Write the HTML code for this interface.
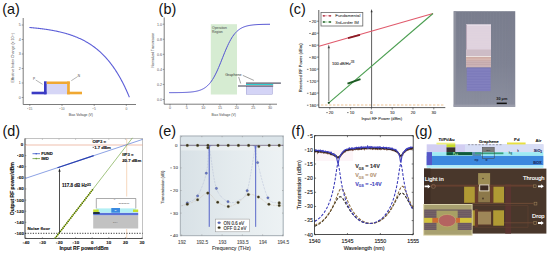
<!DOCTYPE html>
<html><head><meta charset="utf-8"><style>
html,body{margin:0;padding:0;background:#fff;}
svg{display:block;}
text{font-family:"Liberation Sans",sans-serif;}
</style></head><body>
<svg xmlns="http://www.w3.org/2000/svg" width="550" height="253" viewBox="0 0 550 253">
<rect width="550" height="253" fill="#fff"/>
<text x="2.2" y="14.3" font-size="14.4" text-anchor="start" fill="#111" font-weight="normal" font-family="Liberation Sans" >(a)</text>
<text x="158.6" y="14.3" font-size="14.4" text-anchor="start" fill="#111" font-weight="normal" font-family="Liberation Sans" >(b)</text>
<text x="288.9" y="14.2" font-size="14.4" text-anchor="start" fill="#111" font-weight="normal" font-family="Liberation Sans" >(c)</text>
<text x="2.5" y="136.1" font-size="14.4" text-anchor="start" fill="#111" font-weight="normal" font-family="Liberation Sans" >(d)</text>
<text x="158.4" y="136.2" font-size="14.4" text-anchor="start" fill="#111" font-weight="normal" font-family="Liberation Sans" >(e)</text>
<text x="291.2" y="136.3" font-size="14.4" text-anchor="start" fill="#111" font-weight="normal" font-family="Liberation Sans" >(f)</text>
<text x="414.8" y="136.1" font-size="14.4" text-anchor="start" fill="#111" font-weight="normal" font-family="Liberation Sans" >(g)</text>
<line x1="23.2" y1="18" x2="23.2" y2="104.5" stroke="#444" stroke-width="0.7" />
<line x1="23.2" y1="104.5" x2="136" y2="104.5" stroke="#444" stroke-width="0.7" />
<line x1="21.7" y1="97.5" x2="23.2" y2="97.5" stroke="#444" stroke-width="0.5" />
<text x="20.7" y="98.8" font-size="3.6" text-anchor="end" fill="#555" font-weight="normal" font-family="Liberation Sans" >0</text>
<line x1="21.7" y1="83" x2="23.2" y2="83" stroke="#444" stroke-width="0.5" />
<text x="20.7" y="84.3" font-size="3.6" text-anchor="end" fill="#555" font-weight="normal" font-family="Liberation Sans" >1</text>
<line x1="21.7" y1="68.5" x2="23.2" y2="68.5" stroke="#444" stroke-width="0.5" />
<text x="20.7" y="69.8" font-size="3.6" text-anchor="end" fill="#555" font-weight="normal" font-family="Liberation Sans" >2</text>
<line x1="21.7" y1="54" x2="23.2" y2="54" stroke="#444" stroke-width="0.5" />
<text x="20.7" y="55.3" font-size="3.6" text-anchor="end" fill="#555" font-weight="normal" font-family="Liberation Sans" >3</text>
<line x1="21.7" y1="39.5" x2="23.2" y2="39.5" stroke="#444" stroke-width="0.5" />
<text x="20.7" y="40.8" font-size="3.6" text-anchor="end" fill="#555" font-weight="normal" font-family="Liberation Sans" >4</text>
<line x1="21.7" y1="25" x2="23.2" y2="25" stroke="#444" stroke-width="0.5" />
<text x="20.7" y="26.3" font-size="3.6" text-anchor="end" fill="#555" font-weight="normal" font-family="Liberation Sans" >5</text>
<line x1="29.8" y1="104.5" x2="29.8" y2="106.0" stroke="#444" stroke-width="0.5" />
<rect x="27.14" y="108.21" width="1.15" height="0.40" fill="#666"/><text x="28.79" y="109.5" font-size="3.3" text-anchor="start" fill="#666" font-weight="normal" font-family="Liberation Sans" >15</text>
<line x1="62" y1="104.5" x2="62" y2="106.0" stroke="#444" stroke-width="0.5" />
<rect x="59.34" y="108.21" width="1.15" height="0.40" fill="#666"/><text x="60.99" y="109.5" font-size="3.3" text-anchor="start" fill="#666" font-weight="normal" font-family="Liberation Sans" >10</text>
<line x1="94.2" y1="104.5" x2="94.2" y2="106.0" stroke="#444" stroke-width="0.5" />
<rect x="92.46" y="108.21" width="1.15" height="0.40" fill="#666"/><text x="94.11" y="109.5" font-size="3.3" text-anchor="start" fill="#666" font-weight="normal" font-family="Liberation Sans" >5</text>
<line x1="126.3" y1="104.5" x2="126.3" y2="106.0" stroke="#444" stroke-width="0.5" />
<text x="126.3" y="109.5" font-size="3.3" text-anchor="middle" fill="#666" font-weight="normal" font-family="Liberation Sans" >0</text>
<text x="80.8" y="115.5" font-size="3.4" text-anchor="middle" fill="#444" font-weight="normal" font-family="Liberation Sans" >Bias Voltage (V)</text>
<text x="0" y="0" font-size="3.6" text-anchor="middle" fill="#444" font-weight="normal" font-family="Liberation Sans" transform="translate(14.2,57.8) rotate(-90)">Effective Index Change (x 10<tspan font-size="2.4" dy="-1.2">-3</tspan><tspan dy="1.2">)</tspan></text>
<path d="M29.40,27.49 L29.90,27.53 L30.40,27.57 L30.90,27.62 L31.40,27.66 L31.90,27.71 L32.40,27.75 L32.90,27.80 L33.40,27.85 L33.90,27.89 L34.40,27.94 L34.90,27.99 L35.40,28.04 L35.90,28.09 L36.40,28.15 L36.90,28.20 L37.40,28.25 L37.90,28.31 L38.40,28.36 L38.90,28.42 L39.40,28.48 L39.90,28.54 L40.40,28.60 L40.90,28.66 L41.40,28.72 L41.90,28.78 L42.40,28.85 L42.90,28.91 L43.40,28.98 L43.90,29.05 L44.40,29.12 L44.90,29.19 L45.40,29.26 L45.90,29.33 L46.40,29.40 L46.90,29.48 L47.40,29.55 L47.90,29.63 L48.40,29.71 L48.90,29.79 L49.40,29.87 L49.90,29.95 L50.40,30.04 L50.90,30.12 L51.40,30.21 L51.90,30.30 L52.40,30.39 L52.90,30.48 L53.40,30.57 L53.90,30.67 L54.40,30.76 L54.90,30.86 L55.40,30.96 L55.90,31.06 L56.40,31.16 L56.90,31.27 L57.40,31.37 L57.90,31.48 L58.40,31.59 L58.90,31.70 L59.40,31.82 L59.90,31.93 L60.40,32.05 L60.90,32.17 L61.40,32.29 L61.90,32.42 L62.40,32.54 L62.90,32.67 L63.40,32.80 L63.90,32.93 L64.40,33.07 L64.90,33.21 L65.40,33.34 L65.90,33.49 L66.40,33.63 L66.90,33.78 L67.40,33.93 L67.90,34.08 L68.40,34.23 L68.90,34.39 L69.40,34.55 L69.90,34.71 L70.40,34.88 L70.90,35.04 L71.40,35.21 L71.90,35.39 L72.40,35.56 L72.90,35.74 L73.40,35.93 L73.90,36.11 L74.40,36.30 L74.90,36.49 L75.40,36.69 L75.90,36.89 L76.40,37.09 L76.90,37.30 L77.40,37.50 L77.90,37.72 L78.40,37.93 L78.90,38.15 L79.40,38.38 L79.90,38.60 L80.40,38.84 L80.90,39.07 L81.40,39.31 L81.90,39.55 L82.40,39.80 L82.90,40.05 L83.40,40.31 L83.90,40.57 L84.40,40.83 L84.90,41.10 L85.40,41.38 L85.90,41.65 L86.40,41.94 L86.90,42.23 L87.40,42.52 L87.90,42.82 L88.40,43.12 L88.90,43.43 L89.40,43.74 L89.90,44.06 L90.40,44.38 L90.90,44.71 L91.40,45.05 L91.90,45.39 L92.40,45.74 L92.90,46.09 L93.40,46.45 L93.90,46.81 L94.40,47.19 L94.90,47.56 L95.40,47.95 L95.90,48.34 L96.40,48.73 L96.90,49.14 L97.40,49.55 L97.90,49.97 L98.40,50.39 L98.90,50.82 L99.40,51.26 L99.90,51.71 L100.40,52.16 L100.90,52.63 L101.40,53.10 L101.90,53.57 L102.40,54.06 L102.90,54.56 L103.40,55.06 L103.90,55.57 L104.40,56.09 L104.90,56.62 L105.40,57.16 L105.90,57.70 L106.40,58.26 L106.90,58.83 L107.40,59.40 L107.90,59.99 L108.40,60.58 L108.90,61.19 L109.40,61.81 L109.90,62.43 L110.40,63.07 L110.90,63.72 L111.40,64.38 L111.90,65.05 L112.40,65.73 L112.90,66.42 L113.40,67.13 L113.90,67.84 L114.40,68.57 L114.90,69.31 L115.40,70.07 L115.90,70.83 L116.40,71.61 L116.90,72.41 L117.40,73.21 L117.90,74.04 L118.40,74.87 L118.90,75.72 L119.40,76.58 L119.90,77.46 L120.40,78.35 L120.90,79.26 L121.40,80.19 L121.90,81.12 L122.40,82.08 L122.90,83.05 L123.40,84.04 L123.90,85.04 L124.40,86.07 L124.90,87.11 L125.40,88.16 L125.90,89.24 L126.40,90.33 L126.90,91.44 L127.40,92.58 L127.90,93.73 L128.40,94.90 L128.90,96.09 L129.40,97.30" fill="none" stroke="#5d5fd8" stroke-width="1.1"/>
<rect x="46.7" y="84" width="20.4" height="10.3" fill="#d6d6f6" />
<rect x="31.6" y="91.7" width="14.8" height="2.6" fill="#3b3bc4" />
<rect x="44" y="81.3" width="2.7" height="13" fill="#3b3bc4" />
<rect x="46.7" y="81.5" width="23.1" height="2.5" fill="#f0a832" />
<rect x="67.1" y="81.5" width="2.7" height="12.8" fill="#f0a832" />
<rect x="67.1" y="91.7" width="14.9" height="2.6" fill="#f0a832" />
<text x="33" y="79.8" font-size="3.2" text-anchor="start" fill="#444" font-weight="normal" font-family="Liberation Sans" >P</text>
<line x1="35.7" y1="80" x2="42.6" y2="84.3" stroke="#444" stroke-width="0.4" />
<text x="77.8" y="76.8" font-size="3.2" text-anchor="start" fill="#444" font-weight="normal" font-family="Liberation Sans" >N</text>
<line x1="77.6" y1="76.6" x2="71.3" y2="80.7" stroke="#444" stroke-width="0.4" />
<rect x="210.8" y="24.2" width="26.2" height="70.3" fill="#d6ecd2" />
<line x1="164.2" y1="17.4" x2="164.2" y2="104.2" stroke="#444" stroke-width="0.7" />
<line x1="164.2" y1="104.2" x2="277" y2="104.2" stroke="#444" stroke-width="0.7" />
<line x1="162.7" y1="99.5" x2="164.2" y2="99.5" stroke="#444" stroke-width="0.5" />
<text x="161.89999999999998" y="100.8" font-size="3.6" text-anchor="end" fill="#555" font-weight="normal" font-family="Liberation Sans" >0.0</text>
<line x1="162.7" y1="84.44" x2="164.2" y2="84.44" stroke="#444" stroke-width="0.5" />
<text x="161.89999999999998" y="85.74" font-size="3.6" text-anchor="end" fill="#555" font-weight="normal" font-family="Liberation Sans" >0.2</text>
<line x1="162.7" y1="69.38" x2="164.2" y2="69.38" stroke="#444" stroke-width="0.5" />
<text x="161.89999999999998" y="70.67999999999999" font-size="3.6" text-anchor="end" fill="#555" font-weight="normal" font-family="Liberation Sans" >0.4</text>
<line x1="162.7" y1="54.32" x2="164.2" y2="54.32" stroke="#444" stroke-width="0.5" />
<text x="161.89999999999998" y="55.62" font-size="3.6" text-anchor="end" fill="#555" font-weight="normal" font-family="Liberation Sans" >0.6</text>
<line x1="162.7" y1="39.26" x2="164.2" y2="39.26" stroke="#444" stroke-width="0.5" />
<text x="161.89999999999998" y="40.559999999999995" font-size="3.6" text-anchor="end" fill="#555" font-weight="normal" font-family="Liberation Sans" >0.8</text>
<line x1="162.7" y1="24.200000000000003" x2="164.2" y2="24.200000000000003" stroke="#444" stroke-width="0.5" />
<text x="161.89999999999998" y="25.500000000000004" font-size="3.6" text-anchor="end" fill="#555" font-weight="normal" font-family="Liberation Sans" >1.0</text>
<line x1="170.0" y1="104.2" x2="170.0" y2="105.7" stroke="#444" stroke-width="0.5" />
<text x="170.0" y="109.2" font-size="3.6" text-anchor="middle" fill="#555" font-weight="normal" font-family="Liberation Sans" >0</text>
<line x1="186.665" y1="104.2" x2="186.665" y2="105.7" stroke="#444" stroke-width="0.5" />
<text x="186.665" y="109.2" font-size="3.6" text-anchor="middle" fill="#555" font-weight="normal" font-family="Liberation Sans" >5</text>
<line x1="203.32999999999998" y1="104.2" x2="203.32999999999998" y2="105.7" stroke="#444" stroke-width="0.5" />
<text x="203.32999999999998" y="109.2" font-size="3.6" text-anchor="middle" fill="#555" font-weight="normal" font-family="Liberation Sans" >10</text>
<line x1="219.995" y1="104.2" x2="219.995" y2="105.7" stroke="#444" stroke-width="0.5" />
<text x="219.995" y="109.2" font-size="3.6" text-anchor="middle" fill="#555" font-weight="normal" font-family="Liberation Sans" >15</text>
<line x1="236.66" y1="104.2" x2="236.66" y2="105.7" stroke="#444" stroke-width="0.5" />
<text x="236.66" y="109.2" font-size="3.6" text-anchor="middle" fill="#555" font-weight="normal" font-family="Liberation Sans" >20</text>
<line x1="253.325" y1="104.2" x2="253.325" y2="105.7" stroke="#444" stroke-width="0.5" />
<text x="253.325" y="109.2" font-size="3.6" text-anchor="middle" fill="#555" font-weight="normal" font-family="Liberation Sans" >25</text>
<line x1="269.99" y1="104.2" x2="269.99" y2="105.7" stroke="#444" stroke-width="0.5" />
<text x="269.99" y="109.2" font-size="3.6" text-anchor="middle" fill="#555" font-weight="normal" font-family="Liberation Sans" >30</text>
<text x="223.7" y="115.5" font-size="3.4" text-anchor="middle" fill="#444" font-weight="normal" font-family="Liberation Sans" >Bias Voltage (V)</text>
<text x="0" y="0" font-size="3.1" text-anchor="middle" fill="#444" font-weight="normal" font-family="Liberation Sans" transform="translate(153.9,50.1) rotate(-90)">Normalized Transmission</text>
<text x="212" y="28.5" font-size="3.4" text-anchor="start" fill="#444" font-weight="normal" font-family="Liberation Sans" >Operation</text>
<text x="212" y="33" font-size="3.4" text-anchor="start" fill="#444" font-weight="normal" font-family="Liberation Sans" >Region</text>
<path d="M169.20,92.67 L170.21,92.67 L171.22,92.66 L172.22,92.66 L173.23,92.65 L174.24,92.64 L175.25,92.63 L176.26,92.62 L177.26,92.61 L178.27,92.59 L179.28,92.58 L180.29,92.56 L181.30,92.54 L182.30,92.51 L183.31,92.48 L184.32,92.44 L185.33,92.40 L186.34,92.36 L187.34,92.30 L188.35,92.24 L189.36,92.16 L190.37,92.08 L191.38,91.98 L192.38,91.87 L193.39,91.74 L194.40,91.59 L195.41,91.41 L196.42,91.21 L197.42,90.98 L198.43,90.71 L199.44,90.40 L200.45,90.05 L201.46,89.65 L202.46,89.18 L203.47,88.66 L204.48,88.05 L205.49,87.37 L206.50,86.59 L207.50,85.72 L208.51,84.73 L209.52,83.63 L210.53,82.40 L211.54,81.03 L212.54,79.52 L213.55,77.87 L214.56,76.08 L215.57,74.14 L216.58,72.07 L217.58,69.87 L218.59,67.56 L219.60,65.16 L220.61,62.69 L221.62,60.17 L222.62,57.63 L223.63,55.11 L224.64,52.61 L225.65,50.18 L226.66,47.84 L227.66,45.60 L228.67,43.48 L229.68,41.50 L230.69,39.65 L231.70,37.95 L232.70,36.39 L233.71,34.98 L234.72,33.70 L235.73,32.55 L236.74,31.52 L237.74,30.61 L238.75,29.80 L239.76,29.08 L240.77,28.45 L241.78,27.90 L242.78,27.41 L243.79,26.99 L244.80,26.62 L245.81,26.29 L246.82,26.01 L247.82,25.77 L248.83,25.56 L249.84,25.37 L250.85,25.21 L251.86,25.08 L252.86,24.96 L253.87,24.85 L254.88,24.76 L255.89,24.69 L256.90,24.62 L257.90,24.56 L258.91,24.51 L259.92,24.47 L260.93,24.43 L261.94,24.40 L262.94,24.37 L263.95,24.35 L264.96,24.33 L265.97,24.31 L266.98,24.30 L267.98,24.28 L268.99,24.27 L270.00,24.26" fill="none" stroke="#5252d2" stroke-width="1.0"/>
<rect x="246.2" y="86.4" width="26.3" height="7.8" fill="#d4d4f6" stroke="#8a8ac8" stroke-width="0.4"/>
<line x1="246" y1="83.1" x2="280.9" y2="83.1" stroke="#2c2c40" stroke-width="1.0" />
<line x1="246" y1="84.5" x2="273.2" y2="84.5" stroke="#2ecfd2" stroke-width="1.0" />
<line x1="238" y1="86" x2="273.2" y2="86" stroke="#3a3a4c" stroke-width="1.0" />
<text x="225.2" y="76.2" font-size="3.7" text-anchor="start" fill="#333" font-weight="normal" font-family="Liberation Sans" >Graphene</text>
<line x1="238.7" y1="77" x2="240.7" y2="83.5" stroke="#333" stroke-width="0.45" />
<line x1="242.8" y1="75.4" x2="253.9" y2="80.4" stroke="#333" stroke-width="0.45" />
<line x1="318.8" y1="10" x2="318.8" y2="107.6" stroke="#333" stroke-width="0.8" />
<line x1="318.8" y1="107.6" x2="445.3" y2="107.6" stroke="#333" stroke-width="0.8" />
<line x1="316.8" y1="21.2" x2="318.8" y2="21.2" stroke="#333" stroke-width="0.6" />
<rect x="309.18" y="21.02" width="1.64" height="0.65" fill="#444"/><text x="311.84" y="22.7" font-size="4.1" text-anchor="start" fill="#444" font-weight="normal" font-family="Liberation Sans" stroke="#444" stroke-width="0.12" >20</text>
<line x1="316.8" y1="33.172" x2="318.8" y2="33.172" stroke="#333" stroke-width="0.6" />
<rect x="309.18" y="32.99" width="1.64" height="0.65" fill="#444"/><text x="311.84" y="34.672" font-size="4.1" text-anchor="start" fill="#444" font-weight="normal" font-family="Liberation Sans" stroke="#444" stroke-width="0.12" >40</text>
<line x1="316.8" y1="45.144000000000005" x2="318.8" y2="45.144000000000005" stroke="#333" stroke-width="0.6" />
<rect x="309.18" y="44.97" width="1.64" height="0.65" fill="#444"/><text x="311.84" y="46.644000000000005" font-size="4.1" text-anchor="start" fill="#444" font-weight="normal" font-family="Liberation Sans" stroke="#444" stroke-width="0.12" >60</text>
<line x1="316.8" y1="57.116" x2="318.8" y2="57.116" stroke="#333" stroke-width="0.6" />
<rect x="309.18" y="56.94" width="1.64" height="0.65" fill="#444"/><text x="311.84" y="58.616" font-size="4.1" text-anchor="start" fill="#444" font-weight="normal" font-family="Liberation Sans" stroke="#444" stroke-width="0.12" >80</text>
<line x1="316.8" y1="69.08800000000001" x2="318.8" y2="69.08800000000001" stroke="#333" stroke-width="0.6" />
<rect x="306.90" y="68.91" width="1.64" height="0.65" fill="#444"/><text x="309.56" y="70.58800000000001" font-size="4.1" text-anchor="start" fill="#444" font-weight="normal" font-family="Liberation Sans" stroke="#444" stroke-width="0.12" >100</text>
<line x1="316.8" y1="81.06" x2="318.8" y2="81.06" stroke="#333" stroke-width="0.6" />
<rect x="306.90" y="80.88" width="1.64" height="0.65" fill="#444"/><text x="309.56" y="82.56" font-size="4.1" text-anchor="start" fill="#444" font-weight="normal" font-family="Liberation Sans" stroke="#444" stroke-width="0.12" >120</text>
<line x1="316.8" y1="93.03200000000001" x2="318.8" y2="93.03200000000001" stroke="#333" stroke-width="0.6" />
<rect x="306.90" y="92.85" width="1.64" height="0.65" fill="#444"/><text x="309.56" y="94.53200000000001" font-size="4.1" text-anchor="start" fill="#444" font-weight="normal" font-family="Liberation Sans" stroke="#444" stroke-width="0.12" >140</text>
<line x1="316.8" y1="105.004" x2="318.8" y2="105.004" stroke="#333" stroke-width="0.6" />
<rect x="306.90" y="104.83" width="1.64" height="0.65" fill="#444"/><text x="309.56" y="106.504" font-size="4.1" text-anchor="start" fill="#444" font-weight="normal" font-family="Liberation Sans" stroke="#444" stroke-width="0.12" >160</text>
<line x1="329.79999999999995" y1="107.6" x2="329.79999999999995" y2="109.39999999999999" stroke="#333" stroke-width="0.6" />
<rect x="326.19" y="112.42" width="1.64" height="0.65" fill="#444"/><text x="328.85" y="114.1" font-size="4.1" text-anchor="start" fill="#444" font-weight="normal" font-family="Liberation Sans" stroke="#444" stroke-width="0.12" >20</text>
<line x1="350.59999999999997" y1="107.6" x2="350.59999999999997" y2="109.39999999999999" stroke="#333" stroke-width="0.6" />
<rect x="346.99" y="112.42" width="1.64" height="0.65" fill="#444"/><text x="349.65" y="114.1" font-size="4.1" text-anchor="start" fill="#444" font-weight="normal" font-family="Liberation Sans" stroke="#444" stroke-width="0.12" >10</text>
<line x1="371.4" y1="107.6" x2="371.4" y2="109.39999999999999" stroke="#333" stroke-width="0.6" />
<text x="371.4" y="114.1" font-size="4.1" text-anchor="middle" fill="#444" font-weight="normal" font-family="Liberation Sans" stroke="#444" stroke-width="0.12" >0</text>
<line x1="392.2" y1="107.6" x2="392.2" y2="109.39999999999999" stroke="#333" stroke-width="0.6" />
<text x="392.2" y="114.1" font-size="4.1" text-anchor="middle" fill="#444" font-weight="normal" font-family="Liberation Sans" stroke="#444" stroke-width="0.12" >10</text>
<line x1="413.0" y1="107.6" x2="413.0" y2="109.39999999999999" stroke="#333" stroke-width="0.6" />
<text x="413.0" y="114.1" font-size="4.1" text-anchor="middle" fill="#444" font-weight="normal" font-family="Liberation Sans" stroke="#444" stroke-width="0.12" >20</text>
<line x1="433.79999999999995" y1="107.6" x2="433.79999999999995" y2="109.39999999999999" stroke="#333" stroke-width="0.6" />
<text x="433.79999999999995" y="114.1" font-size="4.1" text-anchor="middle" fill="#444" font-weight="normal" font-family="Liberation Sans" stroke="#444" stroke-width="0.12" >30</text>
<text x="381.8" y="119.6" font-size="4.1" text-anchor="middle" fill="#444" font-weight="normal" font-family="Liberation Sans" stroke="#444" stroke-width="0.12" >Input RF Power (dBm)</text>
<text x="0" y="0" font-size="4.1" text-anchor="middle" fill="#444" font-weight="normal" font-family="Liberation Sans" stroke="#444" stroke-width="0.12" transform="translate(301.8,67.8) rotate(-90)">Received RF Power (dBm)</text>
<line x1="321" y1="105" x2="445" y2="105" stroke="#e8b478" stroke-width="0.8" stroke-dasharray="2.4,1.6"/>
<line x1="371.6" y1="11" x2="371.6" y2="107.6" stroke="#333" stroke-width="0.8" />
<path d="M371.6,9 L370.6,12.2 L372.6,12.2 Z" fill="#333"/>
<line x1="319" y1="46.2" x2="433" y2="13.5" stroke="#e05a6c" stroke-width="1.1" />
<line x1="328.8" y1="102.8" x2="433" y2="13.5" stroke="#4a9e50" stroke-width="1.1" />
<line x1="348" y1="38.2" x2="360" y2="34.8" stroke="#8a1a24" stroke-width="1.8" />
<line x1="347.5" y1="83.7" x2="360.5" y2="79.2" stroke="#1c5a22" stroke-width="1.9" />
<line x1="328.8" y1="47" x2="328.8" y2="101" stroke="#5a5a5a" stroke-width="0.8" />
<path d="M328.8,44.6 L327.7,48.2 L329.9,48.2 Z" fill="#444"/>
<circle cx="328.8" cy="102.8" r="1.1" fill="#1d4a22"/>
<text x="332" y="64.5" font-size="4.0" text-anchor="start" fill="#333" font-weight="normal" font-family="Liberation Sans" stroke="#333" stroke-width="0.12" >100 dB/Hz<tspan font-size="2.6" dy="-1.5">2/3</tspan></text>
<rect x="321" y="12.4" width="41.8" height="13.6" fill="#fff" stroke="#666" stroke-width="0.8"/>
<line x1="322.5" y1="15.8" x2="331.3" y2="15.8" stroke="#e0566a" stroke-width="0.8" stroke-dasharray="1.6,1"/>
<circle cx="324" cy="15.8" r="0.9" fill="#a01c2c"/><circle cx="330" cy="15.8" r="0.9" fill="#a01c2c"/>
<line x1="322.5" y1="22" x2="331.3" y2="22" stroke="#42a048" stroke-width="0.8" stroke-dasharray="1.6,1"/>
<circle cx="324" cy="22" r="0.9" fill="#1c5a22"/><circle cx="330" cy="22" r="0.9" fill="#1c5a22"/>
<text x="335.3" y="17.3" font-size="4.3" text-anchor="start" fill="#333" font-weight="normal" font-family="Liberation Sans" stroke="#333" stroke-width="0.05" >Fundamental</text>
<text x="335.3" y="23.6" font-size="4.3" text-anchor="start" fill="#333" font-weight="normal" font-family="Liberation Sans" stroke="#333" stroke-width="0.05" >3rd-order IM</text>
<defs><pattern id="dots" width="1.7" height="1.7" patternUnits="userSpaceOnUse"><rect width="1.7" height="1.7" fill="#e4d8e2"/><circle cx="0.85" cy="0.85" r="0.42" fill="#c8b6c8"/></pattern><linearGradient id="eg" x1="0" y1="0" x2="1" y2="0"><stop offset="0" stop-color="#d8e1e6"/><stop offset="0.5" stop-color="#e4ebee"/><stop offset="1" stop-color="#edf2f4"/></linearGradient><linearGradient id="pg" x1="0" y1="0" x2="1" y2="0"><stop offset="0" stop-color="#7c7f8c"/><stop offset="0.5" stop-color="#818491"/><stop offset="1" stop-color="#7e8190"/></linearGradient></defs>
<defs><linearGradient id="pv" x1="0" y1="0" x2="0" y2="1"><stop offset="0" stop-color="#797d8d"/><stop offset="0.55" stop-color="#7e8293"/><stop offset="1" stop-color="#8b8f9f"/></linearGradient></defs>
<rect x="453.7" y="11.2" width="61.4" height="95.6" fill="url(#pv)" />
<rect x="456.0" y="11.2" width="0.6" height="95.6" fill="#8a8d9c" opacity="0.35"/>
<rect x="459.1" y="11.2" width="0.6" height="95.6" fill="#8a8d9c" opacity="0.35"/>
<rect x="462.20000000000005" y="11.2" width="0.6" height="95.6" fill="#8a8d9c" opacity="0.35"/>
<rect x="465.30000000000007" y="11.2" width="0.6" height="95.6" fill="#8a8d9c" opacity="0.35"/>
<rect x="468.4000000000001" y="11.2" width="0.6" height="95.6" fill="#8a8d9c" opacity="0.35"/>
<rect x="471.5000000000001" y="11.2" width="0.6" height="95.6" fill="#8a8d9c" opacity="0.35"/>
<rect x="474.60000000000014" y="11.2" width="0.6" height="95.6" fill="#8a8d9c" opacity="0.35"/>
<rect x="477.70000000000016" y="11.2" width="0.6" height="95.6" fill="#8a8d9c" opacity="0.35"/>
<rect x="480.8000000000002" y="11.2" width="0.6" height="95.6" fill="#8a8d9c" opacity="0.35"/>
<rect x="483.9000000000002" y="11.2" width="0.6" height="95.6" fill="#8a8d9c" opacity="0.35"/>
<rect x="487.0000000000002" y="11.2" width="0.6" height="95.6" fill="#8a8d9c" opacity="0.35"/>
<rect x="490.10000000000025" y="11.2" width="0.6" height="95.6" fill="#8a8d9c" opacity="0.35"/>
<rect x="493.2000000000003" y="11.2" width="0.6" height="95.6" fill="#8a8d9c" opacity="0.35"/>
<rect x="496.3000000000003" y="11.2" width="0.6" height="95.6" fill="#8a8d9c" opacity="0.35"/>
<rect x="499.4000000000003" y="11.2" width="0.6" height="95.6" fill="#8a8d9c" opacity="0.35"/>
<rect x="502.50000000000034" y="11.2" width="0.6" height="95.6" fill="#8a8d9c" opacity="0.35"/>
<rect x="505.60000000000036" y="11.2" width="0.6" height="95.6" fill="#8a8d9c" opacity="0.35"/>
<rect x="508.7000000000004" y="11.2" width="0.6" height="95.6" fill="#8a8d9c" opacity="0.35"/>
<rect x="511.8000000000004" y="11.2" width="0.6" height="95.6" fill="#8a8d9c" opacity="0.35"/>
<rect x="514.9000000000004" y="11.2" width="0.6" height="95.6" fill="#8a8d9c" opacity="0.35"/>
<rect x="453.7" y="11.2" width="2.2" height="95.6" fill="#8e919e" />
<rect x="453.7" y="104.6" width="61.4" height="2.2" fill="#9a9caa" />
<rect x="466" y="24.5" width="25" height="32" fill="url(#dots)" />
<rect x="466" y="24.5" width="25" height="1.2" fill="#e8e0ea" />
<rect x="466" y="24.5" width="1" height="32" fill="#b8a8b8" />
<rect x="466" y="49.5" width="25" height="6.5" fill="#cdbcc6" />
<rect x="466" y="56" width="25" height="1.2" fill="#ece2e0" />
<rect x="466" y="57.2" width="25" height="10.3" fill="#c0a4a8" />
<rect x="466" y="57.2" width="25" height="3.2" fill="#d4aea4" />
<rect x="466" y="58.8" width="25" height="0.7" fill="#d8c0c0" />
<rect x="466" y="60.8" width="25" height="0.7" fill="#d8c0c0" />
<rect x="466" y="62.8" width="25" height="0.7" fill="#d8c0c0" />
<rect x="466" y="64.8" width="25" height="0.7" fill="#d8c0c0" />
<rect x="466" y="66.4" width="25" height="0.7" fill="#d8c0c0" />
<rect x="466.8" y="67.5" width="23.8" height="23.6" fill="#7c7aba" />
<rect x="466.8" y="69.0" width="23.8" height="0.5" fill="#8886c2" />
<rect x="466.8" y="70.6" width="23.8" height="0.5" fill="#8886c2" />
<rect x="466.8" y="72.19999999999999" width="23.8" height="0.5" fill="#8886c2" />
<rect x="466.8" y="73.79999999999998" width="23.8" height="0.5" fill="#8886c2" />
<rect x="466.8" y="75.39999999999998" width="23.8" height="0.5" fill="#8886c2" />
<rect x="466.8" y="76.99999999999997" width="23.8" height="0.5" fill="#8886c2" />
<rect x="466.8" y="78.59999999999997" width="23.8" height="0.5" fill="#8886c2" />
<rect x="466.8" y="80.19999999999996" width="23.8" height="0.5" fill="#8886c2" />
<rect x="466.8" y="81.79999999999995" width="23.8" height="0.5" fill="#8886c2" />
<rect x="466.8" y="83.39999999999995" width="23.8" height="0.5" fill="#8886c2" />
<rect x="466.8" y="84.99999999999994" width="23.8" height="0.5" fill="#8886c2" />
<rect x="466.8" y="86.59999999999994" width="23.8" height="0.5" fill="#8886c2" />
<rect x="466.8" y="88.19999999999993" width="23.8" height="0.5" fill="#8886c2" />
<rect x="466.8" y="89.79999999999993" width="23.8" height="0.5" fill="#8886c2" />
<text x="501.8" y="100.3" font-size="3.8" text-anchor="middle" fill="#111" font-weight="bold" font-family="Liberation Sans" >30 μm</text>
<rect x="496.7" y="102.6" width="10.1" height="1.5" fill="#111" />
<rect x="25" y="138.6" width="117.6" height="99.9" fill="none" stroke="#9a9a9a" stroke-width="0.6"/>
<line x1="25" y1="138.6" x2="25" y2="238.5" stroke="#333" stroke-width="0.8" />
<line x1="25" y1="238.5" x2="142.6" y2="238.5" stroke="#333" stroke-width="0.8" />
<line x1="25" y1="144.5" x2="26.3" y2="144.5" stroke="#444" stroke-width="0.5" />
<text x="23.2" y="146.0" font-size="4.4" text-anchor="end" fill="#222" font-weight="bold" font-family="Liberation Serif" stroke="#222" stroke-width="0.12" >0</text>
<line x1="25" y1="155.62" x2="26.3" y2="155.62" stroke="#444" stroke-width="0.5" />
<rect x="17.00" y="155.37" width="1.45" height="0.60" fill="#222"/><text x="18.8" y="157.12" font-size="4.4" text-anchor="start" fill="#222" font-weight="bold" font-family="Liberation Serif" stroke="#222" stroke-width="0.12" >20</text>
<line x1="25" y1="166.74" x2="26.3" y2="166.74" stroke="#444" stroke-width="0.5" />
<rect x="17.00" y="166.49" width="1.45" height="0.60" fill="#222"/><text x="18.8" y="168.24" font-size="4.4" text-anchor="start" fill="#222" font-weight="bold" font-family="Liberation Serif" stroke="#222" stroke-width="0.12" >40</text>
<line x1="25" y1="177.86" x2="26.3" y2="177.86" stroke="#444" stroke-width="0.5" />
<rect x="17.00" y="177.61" width="1.45" height="0.60" fill="#222"/><text x="18.8" y="179.36" font-size="4.4" text-anchor="start" fill="#222" font-weight="bold" font-family="Liberation Serif" stroke="#222" stroke-width="0.12" >60</text>
<line x1="25" y1="188.98000000000002" x2="26.3" y2="188.98000000000002" stroke="#444" stroke-width="0.5" />
<rect x="17.00" y="188.73" width="1.45" height="0.60" fill="#222"/><text x="18.8" y="190.48000000000002" font-size="4.4" text-anchor="start" fill="#222" font-weight="bold" font-family="Liberation Serif" stroke="#222" stroke-width="0.12" >80</text>
<line x1="25" y1="200.10000000000002" x2="26.3" y2="200.10000000000002" stroke="#444" stroke-width="0.5" />
<rect x="14.80" y="199.85" width="1.45" height="0.60" fill="#222"/><text x="16.6" y="201.60000000000002" font-size="4.4" text-anchor="start" fill="#222" font-weight="bold" font-family="Liberation Serif" stroke="#222" stroke-width="0.12" >100</text>
<line x1="25" y1="211.22" x2="26.3" y2="211.22" stroke="#444" stroke-width="0.5" />
<rect x="14.80" y="210.97" width="1.45" height="0.60" fill="#222"/><text x="16.6" y="212.72" font-size="4.4" text-anchor="start" fill="#222" font-weight="bold" font-family="Liberation Serif" stroke="#222" stroke-width="0.12" >120</text>
<line x1="25" y1="222.34" x2="26.3" y2="222.34" stroke="#444" stroke-width="0.5" />
<rect x="14.80" y="222.09" width="1.45" height="0.60" fill="#222"/><text x="16.6" y="223.84" font-size="4.4" text-anchor="start" fill="#222" font-weight="bold" font-family="Liberation Serif" stroke="#222" stroke-width="0.12" >140</text>
<line x1="25" y1="233.46" x2="26.3" y2="233.46" stroke="#444" stroke-width="0.5" />
<rect x="14.80" y="233.21" width="1.45" height="0.60" fill="#222"/><text x="16.6" y="234.96" font-size="4.4" text-anchor="start" fill="#222" font-weight="bold" font-family="Liberation Serif" stroke="#222" stroke-width="0.12" >160</text>
<line x1="25.80000000000001" y1="238.5" x2="25.80000000000001" y2="237.2" stroke="#444" stroke-width="0.5" />
<line x1="25.80000000000001" y1="138.6" x2="25.80000000000001" y2="139.9" stroke="#999" stroke-width="0.5" />
<rect x="22.70" y="242.65" width="1.45" height="0.60" fill="#222"/><text x="24.5" y="244.4" font-size="4.4" text-anchor="start" fill="#222" font-weight="bold" font-family="Liberation Serif" stroke="#222" stroke-width="0.12" >40</text>
<line x1="42.400000000000006" y1="238.5" x2="42.400000000000006" y2="237.2" stroke="#444" stroke-width="0.5" />
<line x1="42.400000000000006" y1="138.6" x2="42.400000000000006" y2="139.9" stroke="#999" stroke-width="0.5" />
<rect x="39.30" y="242.65" width="1.45" height="0.60" fill="#222"/><text x="41.1" y="244.4" font-size="4.4" text-anchor="start" fill="#222" font-weight="bold" font-family="Liberation Serif" stroke="#222" stroke-width="0.12" >30</text>
<line x1="59.00000000000001" y1="238.5" x2="59.00000000000001" y2="237.2" stroke="#444" stroke-width="0.5" />
<line x1="59.00000000000001" y1="138.6" x2="59.00000000000001" y2="139.9" stroke="#999" stroke-width="0.5" />
<rect x="55.90" y="242.65" width="1.45" height="0.60" fill="#222"/><text x="57.7" y="244.4" font-size="4.4" text-anchor="start" fill="#222" font-weight="bold" font-family="Liberation Serif" stroke="#222" stroke-width="0.12" >20</text>
<line x1="75.60000000000001" y1="238.5" x2="75.60000000000001" y2="237.2" stroke="#444" stroke-width="0.5" />
<line x1="75.60000000000001" y1="138.6" x2="75.60000000000001" y2="139.9" stroke="#999" stroke-width="0.5" />
<rect x="72.50" y="242.65" width="1.45" height="0.60" fill="#222"/><text x="74.3" y="244.4" font-size="4.4" text-anchor="start" fill="#222" font-weight="bold" font-family="Liberation Serif" stroke="#222" stroke-width="0.12" >10</text>
<line x1="92.2" y1="238.5" x2="92.2" y2="237.2" stroke="#444" stroke-width="0.5" />
<line x1="92.2" y1="138.6" x2="92.2" y2="139.9" stroke="#999" stroke-width="0.5" />
<text x="92.2" y="244.4" font-size="4.4" text-anchor="middle" fill="#222" font-weight="bold" font-family="Liberation Serif" stroke="#222" stroke-width="0.12" >0</text>
<line x1="108.8" y1="238.5" x2="108.8" y2="237.2" stroke="#444" stroke-width="0.5" />
<line x1="108.8" y1="138.6" x2="108.8" y2="139.9" stroke="#999" stroke-width="0.5" />
<text x="108.8" y="244.4" font-size="4.4" text-anchor="middle" fill="#222" font-weight="bold" font-family="Liberation Serif" stroke="#222" stroke-width="0.12" >10</text>
<line x1="125.4" y1="238.5" x2="125.4" y2="237.2" stroke="#444" stroke-width="0.5" />
<line x1="125.4" y1="138.6" x2="125.4" y2="139.9" stroke="#999" stroke-width="0.5" />
<text x="125.4" y="244.4" font-size="4.4" text-anchor="middle" fill="#222" font-weight="bold" font-family="Liberation Serif" stroke="#222" stroke-width="0.12" >20</text>
<line x1="142.0" y1="238.5" x2="142.0" y2="237.2" stroke="#444" stroke-width="0.5" />
<line x1="142.0" y1="138.6" x2="142.0" y2="139.9" stroke="#999" stroke-width="0.5" />
<text x="142.0" y="244.4" font-size="4.4" text-anchor="middle" fill="#222" font-weight="bold" font-family="Liberation Serif" stroke="#222" stroke-width="0.12" >30</text>
<text x="83.9" y="250.2" font-size="5.0" text-anchor="middle" fill="#111" font-weight="bold" font-family="Liberation Serif" stroke="#111" stroke-width="0.12" >Input RF power/dBm</text>
<text x="0" y="0" font-size="5.0" text-anchor="middle" fill="#111" font-weight="bold" font-family="Liberation Serif" stroke="#111" stroke-width="0.12" transform="translate(13.9,188.7) rotate(-90)">Output RF power/dBm</text>
<line x1="25" y1="145" x2="142.6" y2="145" stroke="#e8a48a" stroke-width="0.7" />
<line x1="126.7" y1="138.6" x2="126.7" y2="238.5" stroke="#f2c6a2" stroke-width="0.7" />
<line x1="25" y1="233.3" x2="142.6" y2="233.3" stroke="#222" stroke-width="0.9" stroke-dasharray="1.2,1.4"/>
<text x="27.5" y="229.6" font-size="4.3" text-anchor="start" fill="#111" font-weight="bold" font-family="Liberation Serif" stroke="#111" stroke-width="0.12" >Noise floor</text>
<line x1="25" y1="178.5" x2="142.6" y2="139.4" stroke="#5a7ad8" stroke-width="0.7" />
<line x1="57.5" y1="167.7" x2="93.7" y2="155.6" stroke="#2a40b0" stroke-width="1.15" />
<line x1="55" y1="238.4" x2="132.5" y2="137.8" stroke="#7aaa4a" stroke-width="0.7" />
<line x1="55" y1="238.4" x2="93" y2="189.2" stroke="#c8d040" stroke-width="1.2" />
<line x1="55" y1="238.4" x2="93" y2="189.2" stroke="#24500c" stroke-width="1.6" stroke-dasharray="0.9,1.2"/>
<line x1="59.5" y1="171" x2="59.5" y2="233" stroke="#222" stroke-width="0.8" />
<path d="M59.5,168.3 L58.4,171.8 L60.6,171.8 Z" fill="#222"/>
<text x="62" y="187.4" font-size="4.5" text-anchor="start" fill="#111" font-weight="bold" font-family="Liberation Serif" stroke="#111" stroke-width="0.12" >117.8 dB Hz<tspan font-size="2.8" dy="-1.8">2/3</tspan></text>
<text x="92.5" y="143" font-size="4.3" text-anchor="start" fill="#111" font-weight="bold" font-family="Liberation Serif" stroke="#111" stroke-width="0.12" >OIP3 =</text>
<rect x="92.6" y="146.9" width="1.4" height="0.6" fill="#111" />
<text x="94.2" y="148.7" font-size="4.3" text-anchor="start" fill="#111" font-weight="bold" font-family="Liberation Serif" stroke="#111" stroke-width="0.12" >1.7 dBm</text>
<text x="122.2" y="156" font-size="4.3" text-anchor="start" fill="#111" font-weight="bold" font-family="Liberation Serif" stroke="#111" stroke-width="0.12" >IIP3 =</text>
<text x="122.2" y="161.7" font-size="4.3" text-anchor="start" fill="#111" font-weight="bold" font-family="Liberation Serif" stroke="#111" stroke-width="0.12" >20.7 dBm</text>
<line x1="32.5" y1="153.7" x2="40" y2="153.7" stroke="#3a56c8" stroke-width="0.8" />
<circle cx="36.2" cy="153.7" r="0.8" fill="#3a56c8"/>
<text x="41.2" y="155.2" font-size="4.2" text-anchor="start" fill="#111" font-weight="bold" font-family="Liberation Serif" stroke="#111" stroke-width="0.12" >FUND</text>
<line x1="32.5" y1="158.6" x2="40" y2="158.6" stroke="#6a9a3a" stroke-width="0.8" />
<circle cx="36.2" cy="158.6" r="0.8" fill="#6a9a3a"/>
<text x="41.2" y="160.1" font-size="4.2" text-anchor="start" fill="#111" font-weight="bold" font-family="Liberation Serif" stroke="#111" stroke-width="0.12" >IMD</text>
<rect x="92.5" y="196.5" width="46.5" height="32.5" fill="#fff" />
<rect x="93.2" y="215.2" width="45" height="13.3" fill="#c2c2c2" />
<rect x="93.2" y="212.7" width="45" height="2.5" fill="#5a72d8" />
<rect x="96.3" y="208.4" width="39.5" height="4.3" fill="#b2eff4" />
<rect x="111.3" y="208" width="8.7" height="4.7" fill="#3a8ae0" />
<rect x="93.2" y="209.5" width="5.5" height="2.5" fill="#c4e030" />
<rect x="133" y="209.5" width="5.2" height="2.5" fill="#c4e030" />
<rect x="93.2" y="212" width="6.5" height="2" fill="#203040" />
<line x1="96.3" y1="198.5" x2="135.8" y2="198.5" stroke="#444" stroke-width="0.45" />
<line x1="96.3" y1="198.5" x2="96.3" y2="208.4" stroke="#444" stroke-width="0.45" />
<line x1="135.8" y1="198.5" x2="135.8" y2="208.4" stroke="#444" stroke-width="0.45" />
<text x="114.5" y="199.6" font-size="2.4" text-anchor="middle" fill="#333" font-weight="normal" font-family="Liberation Sans" >V</text>
<text x="118.4" y="204" font-size="2.5" text-anchor="start" fill="#444" font-weight="normal" font-family="Liberation Sans" >Graphene</text>
<text x="115.6" y="211.3" font-size="2.2" text-anchor="middle" fill="#fff" font-weight="normal" font-family="Liberation Sans" >Si</text>
<text x="115.3" y="222.7" font-size="2.2" text-anchor="middle" fill="#777" font-weight="normal" font-family="Liberation Sans" >BOX</text>
<rect x="180.4" y="136" width="102.79999999999998" height="99.6" fill="url(#eg)" />
<rect x="180.4" y="136" width="102.79999999999998" height="8.5" fill="#dbe4e9" />
<rect x="180.4" y="146.5" width="102.79999999999998" height="4" fill="#eef2f4" opacity="0.6"/>
<rect x="180.4" y="136" width="102.79999999999998" height="99.6" fill="none" stroke="#b0b8be" stroke-width="1.2"/>
<line x1="180.4" y1="145.3" x2="181.6" y2="145.3" stroke="#888" stroke-width="0.5" />
<line x1="283.2" y1="145.3" x2="282.0" y2="145.3" stroke="#888" stroke-width="0.5" />
<text x="177.4" y="146.8" font-size="4.4" text-anchor="end" fill="#555" font-weight="normal" font-family="Liberation Serif" stroke="#555" stroke-width="0.12" >0</text>
<line x1="180.4" y1="167.9" x2="181.6" y2="167.9" stroke="#888" stroke-width="0.5" />
<line x1="283.2" y1="167.9" x2="282.0" y2="167.9" stroke="#888" stroke-width="0.5" />
<rect x="170.10" y="167.70" width="1.89" height="0.50" fill="#555"/><text x="173.0" y="169.4" font-size="4.4" text-anchor="start" fill="#555" font-weight="normal" font-family="Liberation Serif" stroke="#555" stroke-width="0.12" >10</text>
<line x1="180.4" y1="190.5" x2="181.6" y2="190.5" stroke="#888" stroke-width="0.5" />
<line x1="283.2" y1="190.5" x2="282.0" y2="190.5" stroke="#888" stroke-width="0.5" />
<rect x="170.10" y="190.30" width="1.89" height="0.50" fill="#555"/><text x="173.0" y="192.0" font-size="4.4" text-anchor="start" fill="#555" font-weight="normal" font-family="Liberation Serif" stroke="#555" stroke-width="0.12" >20</text>
<line x1="180.4" y1="213.10000000000002" x2="181.6" y2="213.10000000000002" stroke="#888" stroke-width="0.5" />
<line x1="283.2" y1="213.10000000000002" x2="282.0" y2="213.10000000000002" stroke="#888" stroke-width="0.5" />
<rect x="170.10" y="212.90" width="1.89" height="0.50" fill="#555"/><text x="173.0" y="214.60000000000002" font-size="4.4" text-anchor="start" fill="#555" font-weight="normal" font-family="Liberation Serif" stroke="#555" stroke-width="0.12" >30</text>
<line x1="180.4" y1="235.7" x2="181.6" y2="235.7" stroke="#888" stroke-width="0.5" />
<line x1="283.2" y1="235.7" x2="282.0" y2="235.7" stroke="#888" stroke-width="0.5" />
<rect x="170.10" y="235.50" width="1.89" height="0.50" fill="#555"/><text x="173.0" y="237.2" font-size="4.4" text-anchor="start" fill="#555" font-weight="normal" font-family="Liberation Serif" stroke="#555" stroke-width="0.12" >40</text>
<line x1="181.6" y1="235.6" x2="181.6" y2="234.4" stroke="#888" stroke-width="0.5" />
<line x1="181.6" y1="136" x2="181.6" y2="137.2" stroke="#888" stroke-width="0.5" />
<text x="182.0" y="243.6" font-size="4.7" text-anchor="middle" fill="#555" font-weight="normal" font-family="Liberation Serif" stroke="#555" stroke-width="0.12" >192</text>
<line x1="201.85" y1="235.6" x2="201.85" y2="234.4" stroke="#888" stroke-width="0.5" />
<line x1="201.85" y1="136" x2="201.85" y2="137.2" stroke="#888" stroke-width="0.5" />
<text x="202.25" y="243.6" font-size="4.7" text-anchor="middle" fill="#555" font-weight="normal" font-family="Liberation Serif" stroke="#555" stroke-width="0.12" >192.5</text>
<line x1="222.1" y1="235.6" x2="222.1" y2="234.4" stroke="#888" stroke-width="0.5" />
<line x1="222.1" y1="136" x2="222.1" y2="137.2" stroke="#888" stroke-width="0.5" />
<text x="222.5" y="243.6" font-size="4.7" text-anchor="middle" fill="#555" font-weight="normal" font-family="Liberation Serif" stroke="#555" stroke-width="0.12" >193</text>
<line x1="242.35" y1="235.6" x2="242.35" y2="234.4" stroke="#888" stroke-width="0.5" />
<line x1="242.35" y1="136" x2="242.35" y2="137.2" stroke="#888" stroke-width="0.5" />
<text x="242.75" y="243.6" font-size="4.7" text-anchor="middle" fill="#555" font-weight="normal" font-family="Liberation Serif" stroke="#555" stroke-width="0.12" >193.5</text>
<line x1="262.6" y1="235.6" x2="262.6" y2="234.4" stroke="#888" stroke-width="0.5" />
<line x1="262.6" y1="136" x2="262.6" y2="137.2" stroke="#888" stroke-width="0.5" />
<text x="263.0" y="243.6" font-size="4.7" text-anchor="middle" fill="#555" font-weight="normal" font-family="Liberation Serif" stroke="#555" stroke-width="0.12" >194</text>
<line x1="282.85" y1="235.6" x2="282.85" y2="234.4" stroke="#888" stroke-width="0.5" />
<line x1="282.85" y1="136" x2="282.85" y2="137.2" stroke="#888" stroke-width="0.5" />
<text x="283.25" y="243.6" font-size="4.7" text-anchor="middle" fill="#555" font-weight="normal" font-family="Liberation Serif" stroke="#555" stroke-width="0.12" >194.5</text>
<text x="231.4" y="249.6" font-size="5.2" text-anchor="middle" fill="#444" font-weight="normal" font-family="Liberation Serif" stroke="#444" stroke-width="0.12" >Frequency (THz)</text>
<text x="0" y="0" font-size="4.1" text-anchor="middle" fill="#555" font-weight="normal" font-family="Liberation Serif" stroke="#555" stroke-width="0.12" transform="translate(163.6,187.2) rotate(-90)">Transmission (dB)</text>
<path d="M181.00,206.00 C182.05,205.50 184.53,204.68 187.30,203.00 C190.07,201.32 194.43,200.87 197.60,195.90 C200.77,190.93 204.47,180.85 206.30,173.20 C208.13,165.55 208.02,153.87 208.60,150.00 C209.18,146.13 208.50,143.60 209.80,150.00 C211.10,156.40 213.37,179.78 216.40,188.40 C219.43,197.02 224.35,199.68 228.00,201.70 C231.65,203.72 235.10,202.33 238.30,200.50 C241.50,198.67 244.45,199.12 247.20,190.70 C249.95,182.28 253.33,156.78 254.80,150.00 C256.27,143.22 255.53,147.90 256.00,150.00 C256.47,152.10 255.62,154.63 257.60,162.60 C259.58,170.57 264.33,191.07 267.90,197.80 C271.47,204.53 276.48,201.97 279.00,203.00 C281.52,204.03 282.33,203.83 283.00,204.00" fill="none" stroke="#8a96c0" stroke-width="0.45" stroke-dasharray="0.6,0.9"/>
<path d="M181.00,206.00 C182.05,205.70 184.53,205.23 187.30,204.20 C190.07,203.17 194.18,201.65 197.60,199.80 C201.02,197.95 204.45,192.70 207.80,193.10 C211.15,193.50 214.28,199.97 217.70,202.20 C221.12,204.43 224.90,206.45 228.30,206.50 C231.70,206.55 234.75,204.48 238.10,202.50 C241.45,200.52 245.02,195.52 248.40,194.60 C251.78,193.68 254.98,195.38 258.40,197.00 C261.82,198.62 265.43,202.88 268.90,204.30 C272.37,205.72 276.85,205.22 279.20,205.50 C281.55,205.78 282.37,205.92 283.00,206.00" fill="none" stroke="#b89a7a" stroke-width="0.45" stroke-dasharray="0.6,0.9"/>
<path d="M205.0,145.3 C207.8,145.5 208.4,147.5 208.55,152 L208.8,227 L209.2,227 L209.45,152 C209.6,147.5 210.2,145.5 213.0,145.3 Z" fill="#8a96dc" opacity="0.75"/>
<line x1="209.3" y1="146" x2="209.3" y2="226.8" stroke="#3e4ec0" stroke-width="0.75" />
<path d="M251.4,145.3 C254.20000000000002,145.5 254.8,147.5 254.95000000000002,152 L255.20000000000002,227 L255.6,227 L255.85,152 C256.0,147.5 256.6,145.5 259.4,145.3 Z" fill="#8a96dc" opacity="0.75"/>
<line x1="255.70000000000002" y1="146" x2="255.70000000000002" y2="226.8" stroke="#3e4ec0" stroke-width="0.75" />
<line x1="180.4" y1="145.3" x2="283.2" y2="145.3" stroke="#5a4a6a" stroke-width="0.7" />
<circle cx="206.3" cy="173.2" r="1.15" fill="#6478cc" stroke="#34386a" stroke-width="0.3"/>
<circle cx="216.4" cy="188.4" r="1.15" fill="#6478cc" stroke="#34386a" stroke-width="0.3"/>
<circle cx="197.6" cy="195.9" r="1.15" fill="#6478cc" stroke="#34386a" stroke-width="0.3"/>
<circle cx="187.3" cy="203" r="1.15" fill="#6478cc" stroke="#34386a" stroke-width="0.3"/>
<circle cx="228" cy="201.7" r="1.15" fill="#6478cc" stroke="#34386a" stroke-width="0.3"/>
<circle cx="247.2" cy="190.7" r="1.15" fill="#6478cc" stroke="#34386a" stroke-width="0.3"/>
<circle cx="257.6" cy="162.6" r="1.15" fill="#6478cc" stroke="#34386a" stroke-width="0.3"/>
<circle cx="267.9" cy="197.8" r="1.15" fill="#6478cc" stroke="#34386a" stroke-width="0.3"/>
<circle cx="187.3" cy="145.4" r="1.3" fill="#33301f" stroke="#8a7a40" stroke-width="0.3"/>
<circle cx="197.6" cy="145.4" r="1.3" fill="#33301f" stroke="#8a7a40" stroke-width="0.3"/>
<circle cx="207.9" cy="145.4" r="1.3" fill="#33301f" stroke="#8a7a40" stroke-width="0.3"/>
<circle cx="207.9" cy="147.7" r="1.3" fill="#33301f" stroke="#8a7a40" stroke-width="0.3"/>
<circle cx="218" cy="145.4" r="1.3" fill="#33301f" stroke="#8a7a40" stroke-width="0.3"/>
<circle cx="228.2" cy="145.4" r="1.3" fill="#33301f" stroke="#8a7a40" stroke-width="0.3"/>
<circle cx="238.4" cy="145.4" r="1.3" fill="#33301f" stroke="#8a7a40" stroke-width="0.3"/>
<circle cx="248.6" cy="145.4" r="1.3" fill="#33301f" stroke="#8a7a40" stroke-width="0.3"/>
<circle cx="258.8" cy="146.5" r="1.3" fill="#33301f" stroke="#8a7a40" stroke-width="0.3"/>
<circle cx="269.2" cy="145.4" r="1.3" fill="#33301f" stroke="#8a7a40" stroke-width="0.3"/>
<circle cx="279.2" cy="145.4" r="1.3" fill="#33301f" stroke="#8a7a40" stroke-width="0.3"/>
<circle cx="187.3" cy="204.2" r="1.3" fill="#33301f" stroke="#8a7a40" stroke-width="0.3"/>
<circle cx="197.6" cy="199.8" r="1.3" fill="#33301f" stroke="#8a7a40" stroke-width="0.3"/>
<circle cx="207.8" cy="193.1" r="1.3" fill="#33301f" stroke="#8a7a40" stroke-width="0.3"/>
<circle cx="217.7" cy="202.2" r="1.3" fill="#33301f" stroke="#8a7a40" stroke-width="0.3"/>
<circle cx="228.3" cy="206.5" r="1.3" fill="#33301f" stroke="#8a7a40" stroke-width="0.3"/>
<circle cx="238.1" cy="202.5" r="1.3" fill="#33301f" stroke="#8a7a40" stroke-width="0.3"/>
<circle cx="248.4" cy="194.6" r="1.3" fill="#33301f" stroke="#8a7a40" stroke-width="0.3"/>
<circle cx="258.4" cy="197" r="1.3" fill="#33301f" stroke="#8a7a40" stroke-width="0.3"/>
<circle cx="268.9" cy="204.3" r="1.3" fill="#33301f" stroke="#8a7a40" stroke-width="0.3"/>
<circle cx="279.2" cy="202.9" r="1.3" fill="#33301f" stroke="#8a7a40" stroke-width="0.3"/>
<circle cx="279.2" cy="205.5" r="1.3" fill="#33301f" stroke="#8a7a40" stroke-width="0.3"/>
<rect x="215.6" y="219.1" width="33.7" height="12.7" fill="#fff" stroke="#9a9a9a" stroke-width="0.55"/>
<ellipse cx="219.1" cy="222.7" rx="1.5" ry="1.05" fill="#5a6cc4" stroke="#34386a" stroke-width="0.25"/>
<ellipse cx="219.1" cy="227.7" rx="1.5" ry="1.1" fill="#2a281a" stroke="#8a7a40" stroke-width="0.25"/>
<text x="223.6" y="224.6" font-size="4.45" text-anchor="start" fill="#333" font-weight="normal" font-family="Liberation Sans" stroke="#333" stroke-width="0.12" >ON 0.6 eV</text>
<text x="223.6" y="229.7" font-size="4.45" text-anchor="start" fill="#333" font-weight="normal" font-family="Liberation Sans" stroke="#333" stroke-width="0.12" >OFF 0.2 eV</text>
<rect x="315.1" y="150" width="38" height="11" fill="#fdf5f8" />
<line x1="314.6" y1="135.7" x2="316.1" y2="135.7" stroke="#222" stroke-width="0.6" />
<line x1="413.2" y1="135.7" x2="411.7" y2="135.7" stroke="#222" stroke-width="0.6" />
<rect x="307.57" y="135.48" width="1.72" height="0.60" fill="#222"/><text x="309.91" y="137.5" font-size="5.2" text-anchor="start" fill="#222" font-weight="normal" font-family="Liberation Sans" stroke="#222" stroke-width="0.12" >5</text>
<line x1="314.6" y1="149.85" x2="316.1" y2="149.85" stroke="#222" stroke-width="0.6" />
<line x1="413.2" y1="149.85" x2="411.7" y2="149.85" stroke="#222" stroke-width="0.6" />
<rect x="304.68" y="149.63" width="1.72" height="0.60" fill="#222"/><text x="307.02" y="151.65" font-size="5.2" text-anchor="start" fill="#222" font-weight="normal" font-family="Liberation Sans" stroke="#222" stroke-width="0.12" >10</text>
<line x1="314.6" y1="164.0" x2="316.1" y2="164.0" stroke="#222" stroke-width="0.6" />
<line x1="413.2" y1="164.0" x2="411.7" y2="164.0" stroke="#222" stroke-width="0.6" />
<rect x="304.68" y="163.78" width="1.72" height="0.60" fill="#222"/><text x="307.02" y="165.8" font-size="5.2" text-anchor="start" fill="#222" font-weight="normal" font-family="Liberation Sans" stroke="#222" stroke-width="0.12" >15</text>
<line x1="314.6" y1="178.14999999999998" x2="316.1" y2="178.14999999999998" stroke="#222" stroke-width="0.6" />
<line x1="413.2" y1="178.14999999999998" x2="411.7" y2="178.14999999999998" stroke="#222" stroke-width="0.6" />
<rect x="304.68" y="177.93" width="1.72" height="0.60" fill="#222"/><text x="307.02" y="179.95" font-size="5.2" text-anchor="start" fill="#222" font-weight="normal" font-family="Liberation Sans" stroke="#222" stroke-width="0.12" >20</text>
<line x1="314.6" y1="192.29999999999998" x2="316.1" y2="192.29999999999998" stroke="#222" stroke-width="0.6" />
<line x1="413.2" y1="192.29999999999998" x2="411.7" y2="192.29999999999998" stroke="#222" stroke-width="0.6" />
<rect x="304.68" y="192.08" width="1.72" height="0.60" fill="#222"/><text x="307.02" y="194.1" font-size="5.2" text-anchor="start" fill="#222" font-weight="normal" font-family="Liberation Sans" stroke="#222" stroke-width="0.12" >25</text>
<line x1="314.6" y1="206.45" x2="316.1" y2="206.45" stroke="#222" stroke-width="0.6" />
<line x1="413.2" y1="206.45" x2="411.7" y2="206.45" stroke="#222" stroke-width="0.6" />
<rect x="304.68" y="206.23" width="1.72" height="0.60" fill="#222"/><text x="307.02" y="208.25" font-size="5.2" text-anchor="start" fill="#222" font-weight="normal" font-family="Liberation Sans" stroke="#222" stroke-width="0.12" >30</text>
<line x1="314.6" y1="220.6" x2="316.1" y2="220.6" stroke="#222" stroke-width="0.6" />
<line x1="413.2" y1="220.6" x2="411.7" y2="220.6" stroke="#222" stroke-width="0.6" />
<rect x="304.68" y="220.38" width="1.72" height="0.60" fill="#222"/><text x="307.02" y="222.4" font-size="5.2" text-anchor="start" fill="#222" font-weight="normal" font-family="Liberation Sans" stroke="#222" stroke-width="0.12" >35</text>
<line x1="314.6" y1="234.75" x2="316.1" y2="234.75" stroke="#222" stroke-width="0.6" />
<line x1="413.2" y1="234.75" x2="411.7" y2="234.75" stroke="#222" stroke-width="0.6" />
<rect x="304.68" y="234.53" width="1.72" height="0.60" fill="#222"/><text x="307.02" y="236.55" font-size="5.2" text-anchor="start" fill="#222" font-weight="normal" font-family="Liberation Sans" stroke="#222" stroke-width="0.12" >40</text>
<line x1="314.6" y1="234.5" x2="314.6" y2="233.0" stroke="#222" stroke-width="0.6" />
<line x1="314.6" y1="135.7" x2="314.6" y2="137.2" stroke="#222" stroke-width="0.6" />
<text x="314.6" y="242.5" font-size="5.3" text-anchor="middle" fill="#222" font-weight="normal" font-family="Liberation Sans" stroke="#222" stroke-width="0.12" >1540</text>
<line x1="347.46500000000003" y1="234.5" x2="347.46500000000003" y2="233.0" stroke="#222" stroke-width="0.6" />
<line x1="347.46500000000003" y1="135.7" x2="347.46500000000003" y2="137.2" stroke="#222" stroke-width="0.6" />
<text x="347.46500000000003" y="242.5" font-size="5.3" text-anchor="middle" fill="#222" font-weight="normal" font-family="Liberation Sans" stroke="#222" stroke-width="0.12" >1545</text>
<line x1="380.33000000000004" y1="234.5" x2="380.33000000000004" y2="233.0" stroke="#222" stroke-width="0.6" />
<line x1="380.33000000000004" y1="135.7" x2="380.33000000000004" y2="137.2" stroke="#222" stroke-width="0.6" />
<text x="380.33000000000004" y="242.5" font-size="5.3" text-anchor="middle" fill="#222" font-weight="normal" font-family="Liberation Sans" stroke="#222" stroke-width="0.12" >1550</text>
<line x1="413.19500000000005" y1="234.5" x2="413.19500000000005" y2="233.0" stroke="#222" stroke-width="0.6" />
<line x1="413.19500000000005" y1="135.7" x2="413.19500000000005" y2="137.2" stroke="#222" stroke-width="0.6" />
<text x="413.19500000000005" y="242.5" font-size="5.3" text-anchor="middle" fill="#222" font-weight="normal" font-family="Liberation Sans" stroke="#222" stroke-width="0.12" >1555</text>
<text x="364.1" y="249.8" font-size="5.4" text-anchor="middle" fill="#222" font-weight="normal" font-family="Liberation Sans" stroke="#222" stroke-width="0.12" >Wavelength (nm)</text>
<text x="0" y="0" font-size="5.5" text-anchor="middle" fill="#222" font-weight="normal" font-family="Liberation Sans" stroke="#222" stroke-width="0.12" transform="translate(301.0,184.7) rotate(-90)">Transmission (dBm)</text>
<path d="M314.60,226.23 L315.00,226.07 L315.40,225.91 L315.80,225.73 L316.20,225.55 L316.60,225.36 L317.00,225.15 L317.40,224.94 L317.80,224.71 L318.20,224.48 L318.60,224.23 L319.00,223.97 L319.40,223.71 L319.80,223.43 L320.20,223.14 L320.60,222.84 L321.00,222.52 L321.40,222.20 L321.80,221.86 L322.20,221.51 L322.60,221.15 L323.00,220.78 L323.40,220.39 L323.80,219.99 L324.20,219.57 L324.60,219.15 L325.00,218.71 L325.40,218.25 L325.80,217.78 L326.20,217.30 L326.60,216.80 L327.00,216.29 L327.40,215.76 L327.80,215.21 L328.20,214.65 L328.60,214.08 L329.00,213.49 L329.40,212.88 L329.80,212.26 L330.20,211.62 L330.60,210.96 L331.00,210.29 L331.40,209.61 L331.80,208.91 L332.20,208.20 L332.60,207.48 L333.00,206.75 L333.40,206.00 L333.80,205.26 L334.20,204.50 L334.60,203.75 L335.00,203.01 L335.40,202.27 L335.80,201.55 L336.20,200.85 L336.60,200.18 L337.00,199.54 L337.40,198.95 L337.80,198.42 L338.20,197.94 L338.60,197.54 L339.00,197.22 L339.40,196.99 L339.80,196.85 L340.20,196.80 L340.60,196.84 L341.00,196.98 L341.40,197.21 L341.80,197.52 L342.20,197.91 L342.60,198.37 L343.00,198.88 L343.40,199.45 L343.80,200.05 L344.20,200.69 L344.60,201.35 L345.00,202.03 L345.40,202.72 L345.80,203.42 L346.20,204.12 L346.60,204.82 L347.00,205.52 L347.40,206.21 L347.80,206.89 L348.20,207.55 L348.60,208.21 L349.00,208.85 L349.40,209.48 L349.80,210.09 L350.20,210.69 L350.60,211.27 L351.00,211.83 L351.40,212.38 L351.80,212.92 L352.20,213.43 L352.60,213.94 L353.00,214.42 L353.40,214.89 L353.80,215.35 L354.20,215.79 L354.60,216.22 L355.00,216.63 L355.40,217.03 L355.80,217.42 L356.20,217.79 L356.60,218.14 L357.00,218.49 L357.40,218.82 L357.80,219.14 L358.20,219.44 L358.60,219.74 L359.00,220.02 L359.40,220.29 L359.80,220.55 L360.20,220.79 L360.60,221.03 L361.00,221.25 L361.40,221.46 L361.80,221.67 L362.20,221.86 L362.60,222.04 L363.00,222.21 L363.40,222.37 L363.80,222.52 L364.20,222.66 L364.60,222.78 L365.00,222.90 L365.40,223.01 L365.80,223.11 L366.20,223.20 L366.60,223.28 L367.00,223.35 L367.40,223.42 L367.80,223.47 L368.20,223.51 L368.60,223.54 L369.00,223.57 L369.40,223.58 L369.80,223.59 L370.20,223.58 L370.60,223.57 L371.00,223.55 L371.40,223.52 L371.80,223.47 L372.20,223.42 L372.60,223.36 L373.00,223.30 L373.40,223.22 L373.80,223.13 L374.20,223.03 L374.60,222.93 L375.00,222.81 L375.40,222.69 L375.80,222.55 L376.20,222.41 L376.60,222.25 L377.00,222.09 L377.40,221.92 L377.80,221.73 L378.20,221.54 L378.60,221.33 L379.00,221.12 L379.40,220.89 L379.80,220.66 L380.20,220.41 L380.60,220.16 L381.00,219.89 L381.40,219.61 L381.80,219.32 L382.20,219.02 L382.60,218.70 L383.00,218.38 L383.40,218.04 L383.80,217.69 L384.20,217.33 L384.60,216.96 L385.00,216.57 L385.40,216.17 L385.80,215.75 L386.20,215.33 L386.60,214.89 L387.00,214.43 L387.40,213.96 L387.80,213.48 L388.20,212.98 L388.60,212.47 L389.00,211.94 L389.40,211.39 L389.80,210.83 L390.20,210.26 L390.60,209.67 L391.00,209.06 L391.40,208.44 L391.80,207.80 L392.20,207.14 L392.60,206.47 L393.00,205.79 L393.40,205.09 L393.80,204.38 L394.20,203.66 L394.60,202.93 L395.00,202.18 L395.40,201.44 L395.80,200.69 L396.20,199.94 L396.60,199.19 L397.00,198.45 L397.40,197.73 L397.80,197.03 L398.20,196.36 L398.60,195.72 L399.00,195.13 L399.40,194.60 L399.80,194.12 L400.20,193.72 L400.60,193.40 L401.00,193.17 L401.40,193.03 L401.80,192.98 L402.20,193.02 L402.60,193.16 L403.00,193.39 L403.40,193.70 L403.80,194.09 L404.20,194.55 L404.60,195.06 L405.00,195.63 L405.40,196.23 L405.80,196.87 L406.20,197.53 L406.60,198.21 L407.00,198.90 L407.40,199.60 L407.80,200.31 L408.20,201.01 L408.60,201.70 L409.00,202.39 L409.40,203.07 L409.80,203.73 L410.20,204.39 L410.60,205.03 L411.00,205.66 L411.40,206.27 L411.80,206.87 L412.20,207.45 L412.60,208.01 L413.00,208.56" fill="none" stroke="#2a2418" stroke-width="1.05" stroke-dasharray="2.8,1.5"/>
<path d="M314.60,225.03 L315.00,224.91 L315.40,224.79 L315.80,224.65 L316.20,224.51 L316.60,224.35 L317.00,224.18 L317.40,224.00 L317.80,223.81 L318.20,223.61 L318.60,223.40 L319.00,223.18 L319.40,222.95 L319.80,222.70 L320.20,222.44 L320.60,222.18 L321.00,221.89 L321.40,221.60 L321.80,221.29 L322.20,220.97 L322.60,220.64 L323.00,220.29 L323.40,219.93 L323.80,219.56 L324.20,219.17 L324.60,218.76 L325.00,218.34 L325.40,217.91 L325.80,217.46 L326.20,216.99 L326.60,216.51 L327.00,216.00 L327.40,215.48 L327.80,214.95 L328.20,214.39 L328.60,213.81 L329.00,213.21 L329.40,212.59 L329.80,211.95 L330.20,211.29 L330.60,210.61 L331.00,209.90 L331.40,209.16 L331.80,208.41 L332.20,207.62 L332.60,206.81 L333.00,205.98 L333.40,205.11 L333.80,204.22 L334.20,203.31 L334.60,202.37 L335.00,201.40 L335.40,200.41 L335.80,199.40 L336.20,198.37 L336.60,197.33 L337.00,196.29 L337.40,195.25 L337.80,194.22 L338.20,193.22 L338.60,192.26 L339.00,191.37 L339.40,190.57 L339.80,189.88 L340.20,189.31 L340.60,188.90 L341.00,188.66 L341.40,188.60 L341.80,188.72 L342.20,189.02 L342.60,189.48 L343.00,190.08 L343.40,190.80 L343.80,191.62 L344.20,192.51 L344.60,193.46 L345.00,194.45 L345.40,195.45 L345.80,196.47 L346.20,197.48 L346.60,198.48 L347.00,199.47 L347.40,200.44 L347.80,201.39 L348.20,202.32 L348.60,203.22 L349.00,204.09 L349.40,204.93 L349.80,205.75 L350.20,206.54 L350.60,207.31 L351.00,208.05 L351.40,208.77 L351.80,209.46 L352.20,210.12 L352.60,210.77 L353.00,211.39 L353.40,211.99 L353.80,212.56 L354.20,213.12 L354.60,213.66 L355.00,214.18 L355.40,214.68 L355.80,215.16 L356.20,215.62 L356.60,216.06 L357.00,216.49 L357.40,216.91 L357.80,217.30 L358.20,217.68 L358.60,218.05 L359.00,218.40 L359.40,218.74 L359.80,219.06 L360.20,219.37 L360.60,219.67 L361.00,219.95 L361.40,220.22 L361.80,220.48 L362.20,220.72 L362.60,220.96 L363.00,221.18 L363.40,221.39 L363.80,221.58 L364.20,221.77 L364.60,221.95 L365.00,222.11 L365.40,222.26 L365.80,222.40 L366.20,222.54 L366.60,222.66 L367.00,222.77 L367.40,222.87 L367.80,222.96 L368.20,223.04 L368.60,223.11 L369.00,223.17 L369.40,223.22 L369.80,223.25 L370.20,223.28 L370.60,223.30 L371.00,223.31 L371.40,223.31 L371.80,223.30 L372.20,223.28 L372.60,223.25 L373.00,223.21 L373.40,223.16 L373.80,223.10 L374.20,223.03 L374.60,222.95 L375.00,222.86 L375.40,222.76 L375.80,222.65 L376.20,222.53 L376.60,222.40 L377.00,222.26 L377.40,222.11 L377.80,221.95 L378.20,221.78 L378.60,221.59 L379.00,221.40 L379.40,221.19 L379.80,220.98 L380.20,220.75 L380.60,220.51 L381.00,220.26 L381.40,219.99 L381.80,219.72 L382.20,219.43 L382.60,219.13 L383.00,218.82 L383.40,218.49 L383.80,218.15 L384.20,217.80 L384.60,217.43 L385.00,217.05 L385.40,216.65 L385.80,216.24 L386.20,215.81 L386.60,215.37 L387.00,214.91 L387.40,214.43 L387.80,213.94 L388.20,213.43 L388.60,212.90 L389.00,212.35 L389.40,211.78 L389.80,211.20 L390.20,210.59 L390.60,209.96 L391.00,209.31 L391.40,208.63 L391.80,207.94 L392.20,207.22 L392.60,206.47 L393.00,205.70 L393.40,204.90 L393.80,204.08 L394.20,203.23 L394.60,202.35 L395.00,201.45 L395.40,200.52 L395.80,199.57 L396.20,198.59 L396.60,197.59 L397.00,196.57 L397.40,195.53 L397.80,194.49 L398.20,193.45 L398.60,192.41 L399.00,191.40 L399.40,190.42 L399.80,189.49 L400.20,188.64 L400.60,187.89 L401.00,187.26 L401.40,186.77 L401.80,186.44 L402.20,186.29 L402.60,186.32 L403.00,186.53 L403.40,186.91 L403.80,187.44 L404.20,188.11 L404.60,188.88 L405.00,189.74 L405.40,190.67 L405.80,191.63 L406.20,192.63 L406.60,193.64 L407.00,194.66 L407.40,195.67 L407.80,196.66 L408.20,197.64 L408.60,198.60 L409.00,199.54 L409.40,200.45 L409.80,201.34 L410.20,202.20 L410.60,203.03 L411.00,203.83 L411.40,204.61 L411.80,205.37 L412.20,206.09 L412.60,206.80 L413.00,207.48" fill="none" stroke="#8a6a3a" stroke-width="1.05" stroke-dasharray="2.8,1.5"/>
<path d="M314.60,221.42 L315.00,221.21 L315.40,220.99 L315.80,220.75 L316.20,220.50 L316.60,220.24 L317.00,219.97 L317.40,219.69 L317.80,219.39 L318.20,219.08 L318.60,218.75 L319.00,218.41 L319.40,218.06 L319.80,217.69 L320.20,217.30 L320.60,216.90 L321.00,216.48 L321.40,216.05 L321.80,215.60 L322.20,215.13 L322.60,214.64 L323.00,214.13 L323.40,213.60 L323.80,213.05 L324.20,212.48 L324.60,211.88 L325.00,211.26 L325.40,210.61 L325.80,209.94 L326.20,209.24 L326.60,208.51 L327.00,207.74 L327.40,206.95 L327.80,206.11 L328.20,205.24 L328.60,204.33 L329.00,203.38 L329.40,202.38 L329.80,201.33 L330.20,200.22 L330.60,199.06 L331.00,197.83 L331.40,196.53 L331.80,195.15 L332.20,193.69 L332.60,192.14 L333.00,190.49 L333.40,188.72 L333.80,186.83 L334.20,184.81 L334.60,182.63 L335.00,180.30 L335.40,177.81 L335.80,175.18 L336.20,172.43 L336.60,169.68 L337.00,167.11 L337.40,165.04 L337.80,163.86 L338.20,163.86 L338.60,165.04 L339.00,167.11 L339.40,169.68 L339.80,172.43 L340.20,175.18 L340.60,177.81 L341.00,180.30 L341.40,182.63 L341.80,184.81 L342.20,186.83 L342.60,188.72 L343.00,190.49 L343.40,192.14 L343.80,193.69 L344.20,195.15 L344.60,196.53 L345.00,197.83 L345.40,199.06 L345.80,200.22 L346.20,201.33 L346.60,202.38 L347.00,203.38 L347.40,204.33 L347.80,205.24 L348.20,206.11 L348.60,206.95 L349.00,207.74 L349.40,208.51 L349.80,209.24 L350.20,209.94 L350.60,210.61 L351.00,211.26 L351.40,211.88 L351.80,212.48 L352.20,213.05 L352.60,213.60 L353.00,214.13 L353.40,214.64 L353.80,215.13 L354.20,215.60 L354.60,216.05 L355.00,216.48 L355.40,216.90 L355.80,217.30 L356.20,217.69 L356.60,218.06 L357.00,218.41 L357.40,218.75 L357.80,219.08 L358.20,219.39 L358.60,219.69 L359.00,219.97 L359.40,220.24 L359.80,220.50 L360.20,220.75 L360.60,220.99 L361.00,221.21 L361.40,221.42 L361.80,221.62 L362.20,221.81 L362.60,221.99 L363.00,222.16 L363.40,222.31 L363.80,222.46 L364.20,222.60 L364.60,222.72 L365.00,222.83 L365.40,222.94 L365.80,223.03 L366.20,223.12 L366.60,223.19 L367.00,223.25 L367.40,223.31 L367.80,223.35 L368.20,223.39 L368.60,223.41 L369.00,223.42 L369.40,223.43 L369.80,223.42 L370.20,223.41 L370.60,223.39 L371.00,223.35 L371.40,223.31 L371.80,223.25 L372.20,223.19 L372.60,223.12 L373.00,223.03 L373.40,222.94 L373.80,222.83 L374.20,222.72 L374.60,222.60 L375.00,222.46 L375.40,222.31 L375.80,222.16 L376.20,221.99 L376.60,221.81 L377.00,221.62 L377.40,221.42 L377.80,221.21 L378.20,220.99 L378.60,220.75 L379.00,220.50 L379.40,220.24 L379.80,219.97 L380.20,219.69 L380.60,219.39 L381.00,219.08 L381.40,218.75 L381.80,218.41 L382.20,218.06 L382.60,217.69 L383.00,217.30 L383.40,216.90 L383.80,216.48 L384.20,216.05 L384.60,215.60 L385.00,215.13 L385.40,214.64 L385.80,214.13 L386.20,213.60 L386.60,213.05 L387.00,212.48 L387.40,211.88 L387.80,211.26 L388.20,210.61 L388.60,209.94 L389.00,209.24 L389.40,208.51 L389.80,207.74 L390.20,206.95 L390.60,206.11 L391.00,205.24 L391.40,204.33 L391.80,203.38 L392.20,202.38 L392.60,201.33 L393.00,200.22 L393.40,199.06 L393.80,197.83 L394.20,196.53 L394.60,195.15 L395.00,193.69 L395.40,192.14 L395.80,190.49 L396.20,188.72 L396.60,186.83 L397.00,184.81 L397.40,182.63 L397.80,180.30 L398.20,177.81 L398.60,175.18 L399.00,172.43 L399.40,169.68 L399.80,167.11 L400.20,165.04 L400.60,163.86 L401.00,163.86 L401.40,165.04 L401.80,167.11 L402.20,169.68 L402.60,172.43 L403.00,175.18 L403.40,177.81 L403.80,180.30 L404.20,182.63 L404.60,184.81 L405.00,186.83 L405.40,188.72 L405.80,190.49 L406.20,192.14 L406.60,193.69 L407.00,195.15 L407.40,196.53 L407.80,197.83 L408.20,199.06 L408.60,200.22 L409.00,201.33 L409.40,202.38 L409.80,203.38 L410.20,204.33 L410.60,205.24 L411.00,206.11 L411.40,206.95 L411.80,207.74 L412.20,208.51 L412.60,209.24 L413.00,209.94" fill="none" stroke="#3a3ab8" stroke-width="1.05" stroke-dasharray="2.8,1.5"/>
<path d="M314.60,152.27 L314.95,151.00 L315.30,151.85 L315.65,151.60 L316.00,151.65 L316.35,151.74 L316.70,151.26 L317.05,151.78 L317.40,151.63 L317.75,152.83 L318.10,151.99 L318.45,151.86 L318.80,151.91 L319.15,151.83 L319.50,151.76 L319.85,151.98 L320.20,152.25 L320.55,152.09 L320.90,152.46 L321.25,152.17 L321.60,152.27 L321.95,152.74 L322.30,152.50 L322.65,152.25 L323.00,152.39 L323.35,152.64 L323.70,153.08 L324.05,152.51 L324.40,152.57 L324.75,152.97 L325.10,152.50 L325.45,152.72 L325.80,153.11 L326.15,153.09 L326.50,153.02 L326.85,153.25 L327.20,152.35 L327.55,153.51 L327.90,153.04 L328.25,152.93 L328.60,153.57 L328.95,153.79 L329.30,153.57 L329.65,153.49 L330.00,153.91 L330.35,154.00 L330.70,154.52 L331.05,154.46 L331.40,154.43 L331.75,154.82 L332.10,154.59 L332.45,154.53 L332.80,155.11 L333.15,155.26 L333.50,155.20 L333.85,155.21 L334.20,155.67 L334.55,155.10 L334.90,156.20 L335.25,156.37 L335.60,155.99 L335.95,156.69 L336.30,156.63 L336.65,157.39 L337.00,156.88 L337.35,157.43 L337.70,158.05 L338.05,158.22 L338.40,157.21 L338.75,157.47 L339.10,157.43 L339.45,156.84 L339.80,157.13 L340.15,156.03 L340.50,156.07 L340.85,155.24 L341.20,155.46 L341.55,154.61 L341.90,154.10 L342.25,153.36 L342.60,153.96 L342.95,153.35 L343.30,153.02 L343.65,152.81 L344.00,152.29 L344.35,151.74 L344.70,151.45 L345.05,151.25 L345.40,151.67 L345.75,150.70 L346.10,150.78 L346.45,150.71 L346.80,150.72 L347.15,150.70 L347.50,150.08 L347.85,149.85 L348.20,150.26 L348.55,150.53 L348.90,150.34 L349.25,150.12 L349.60,149.92 L349.95,150.04 L350.30,149.84 L350.65,150.09 L351.00,149.60 L351.35,149.82 L351.70,149.71 L352.05,149.85 L352.40,149.73 L352.75,150.34 L353.10,150.01 L353.45,149.97 L353.80,148.94 L354.15,149.38 L354.50,149.27 L354.85,149.55 L355.20,148.73 L355.55,149.66 L355.90,149.60 L356.25,148.90 L356.60,148.96 L356.95,148.98 L357.30,149.19 L357.65,149.33 L358.00,149.70 L358.35,149.04 L358.70,149.29 L359.05,149.09 L359.40,149.52 L359.75,149.22 L360.10,149.38 L360.45,148.68 L360.80,148.91 L361.15,148.72 L361.50,149.35 L361.85,149.10 L362.20,148.82 L362.55,148.76 L362.90,149.01 L363.25,148.66 L363.60,148.58 L363.95,148.97 L364.30,149.51 L364.65,148.74 L365.00,148.64 L365.35,148.45 L365.70,148.40 L366.05,148.91 L366.40,148.99 L366.75,148.74 L367.10,148.83 L367.45,148.76 L367.80,148.76 L368.15,148.29 L368.50,148.58 L368.85,148.74 L369.20,148.48 L369.55,148.57 L369.90,148.47 L370.25,148.61 L370.60,148.94 L370.95,148.59 L371.30,148.66 L371.65,148.94 L372.00,148.89 L372.35,149.19 L372.70,148.13 L373.05,148.96 L373.40,148.60 L373.75,148.77 L374.10,148.98 L374.45,149.05 L374.80,149.05 L375.15,148.81 L375.50,149.22 L375.85,148.70 L376.20,148.75 L376.55,149.02 L376.90,148.65 L377.25,149.42 L377.60,149.11 L377.95,149.45 L378.30,148.84 L378.65,148.75 L379.00,148.92 L379.35,149.09 L379.70,148.73 L380.05,149.01 L380.40,148.91 L380.75,149.38 L381.10,148.75 L381.45,149.25 L381.80,148.79 L382.15,148.71 L382.50,148.80 L382.85,148.69 L383.20,149.08 L383.55,149.35 L383.90,149.12 L384.25,149.28 L384.60,149.58 L384.95,149.22 L385.30,149.23 L385.65,149.12 L386.00,148.77 L386.35,149.47 L386.70,148.79 L387.05,149.50 L387.40,149.34 L387.75,149.69 L388.10,149.39 L388.45,149.22 L388.80,149.59 L389.15,149.37 L389.50,149.53 L389.85,149.64 L390.20,149.65 L390.55,149.70 L390.90,149.58 L391.25,149.83 L391.60,149.36 L391.95,149.99 L392.30,149.79 L392.65,150.52 L393.00,150.66 L393.35,149.86 L393.70,150.56 L394.05,150.62 L394.40,150.51 L394.75,151.11 L395.10,151.01 L395.45,150.83 L395.80,151.45 L396.15,151.70 L396.50,151.99 L396.85,151.85 L397.20,152.62 L397.55,152.95 L397.90,152.77 L398.25,153.28 L398.60,153.83 L398.95,154.10 L399.30,155.16 L399.65,155.15 L400.00,155.36 L400.35,155.95 L400.70,156.47 L401.05,157.06 L401.40,156.04 L401.75,155.64 L402.10,155.20 L402.45,154.55 L402.80,154.77 L403.15,153.52 L403.50,153.40 L403.85,152.77 L404.20,152.46 L404.55,151.57 L404.90,152.07 L405.25,151.29 L405.60,151.09 L405.95,150.60 L406.30,150.45 L406.65,150.61 L407.00,150.55 L407.35,150.32 L407.70,150.29 L408.05,150.01 L408.40,149.69 L408.75,149.81 L409.10,149.64 L409.45,149.35 L409.80,149.49 L410.15,149.55 L410.50,149.17 L410.85,148.93 L411.20,149.15 L411.55,149.42 L411.90,148.77 L412.25,148.75 L412.60,148.70 L412.95,149.05" fill="none" stroke="#7a5040" stroke-width="1.1"/>
<path d="M314.60,150.49 L314.95,151.12 L315.30,151.37 L315.65,150.83 L316.00,151.49 L316.35,151.25 L316.70,150.97 L317.05,151.21 L317.40,150.75 L317.75,151.04 L318.10,151.74 L318.45,151.01 L318.80,151.81 L319.15,151.30 L319.50,151.63 L319.85,151.40 L320.20,150.79 L320.55,151.29 L320.90,151.54 L321.25,151.21 L321.60,151.19 L321.95,151.71 L322.30,151.47 L322.65,151.22 L323.00,151.55 L323.35,152.03 L323.70,151.70 L324.05,152.15 L324.40,152.36 L324.75,152.00 L325.10,151.73 L325.45,151.74 L325.80,152.16 L326.15,152.47 L326.50,152.37 L326.85,152.52 L327.20,152.32 L327.55,152.61 L327.90,152.48 L328.25,152.61 L328.60,152.43 L328.95,152.45 L329.30,152.86 L329.65,152.78 L330.00,152.93 L330.35,153.50 L330.70,153.40 L331.05,154.36 L331.40,153.94 L331.75,153.63 L332.10,154.17 L332.45,154.19 L332.80,154.05 L333.15,154.71 L333.50,154.34 L333.85,153.87 L334.20,155.12 L334.55,154.93 L334.90,155.73 L335.25,155.35 L335.60,155.42 L335.95,156.40 L336.30,155.90 L336.65,156.53 L337.00,157.16 L337.35,157.02 L337.70,157.13 L338.05,157.23 L338.40,157.35 L338.75,156.69 L339.10,156.81 L339.45,156.48 L339.80,156.64 L340.15,155.56 L340.50,155.02 L340.85,155.04 L341.20,154.26 L341.55,154.00 L341.90,153.54 L342.25,153.47 L342.60,152.61 L342.95,152.42 L343.30,151.39 L343.65,151.54 L344.00,151.92 L344.35,151.03 L344.70,150.78 L345.05,150.43 L345.40,150.75 L345.75,150.46 L346.10,149.92 L346.45,150.28 L346.80,150.03 L347.15,150.05 L347.50,149.55 L347.85,150.12 L348.20,149.67 L348.55,149.46 L348.90,149.28 L349.25,149.30 L349.60,149.55 L349.95,149.18 L350.30,149.51 L350.65,149.33 L351.00,149.50 L351.35,149.31 L351.70,149.02 L352.05,148.47 L352.40,149.05 L352.75,149.15 L353.10,148.93 L353.45,149.01 L353.80,148.68 L354.15,148.67 L354.50,148.48 L354.85,149.09 L355.20,148.71 L355.55,148.50 L355.90,148.23 L356.25,148.53 L356.60,148.94 L356.95,148.64 L357.30,148.27 L357.65,148.85 L358.00,148.82 L358.35,148.67 L358.70,148.59 L359.05,148.67 L359.40,148.48 L359.75,148.53 L360.10,148.08 L360.45,148.70 L360.80,148.33 L361.15,148.81 L361.50,147.66 L361.85,148.41 L362.20,148.48 L362.55,148.09 L362.90,148.30 L363.25,148.37 L363.60,148.31 L363.95,147.98 L364.30,148.08 L364.65,148.39 L365.00,148.45 L365.35,148.11 L365.70,148.09 L366.05,148.12 L366.40,148.34 L366.75,147.75 L367.10,147.66 L367.45,148.06 L367.80,147.71 L368.15,147.85 L368.50,148.03 L368.85,148.14 L369.20,147.70 L369.55,148.23 L369.90,147.50 L370.25,148.15 L370.60,147.56 L370.95,147.65 L371.30,148.18 L371.65,147.89 L372.00,147.79 L372.35,147.89 L372.70,148.15 L373.05,148.01 L373.40,148.02 L373.75,148.33 L374.10,147.84 L374.45,147.92 L374.80,147.91 L375.15,148.39 L375.50,148.35 L375.85,148.44 L376.20,148.08 L376.55,148.06 L376.90,148.35 L377.25,148.01 L377.60,148.36 L377.95,148.34 L378.30,147.95 L378.65,148.14 L379.00,148.14 L379.35,148.67 L379.70,148.92 L380.05,148.17 L380.40,148.22 L380.75,147.59 L381.10,148.30 L381.45,148.25 L381.80,147.97 L382.15,148.50 L382.50,147.86 L382.85,148.26 L383.20,148.38 L383.55,148.01 L383.90,148.62 L384.25,148.70 L384.60,148.03 L384.95,148.05 L385.30,148.64 L385.65,148.49 L386.00,148.19 L386.35,148.47 L386.70,148.55 L387.05,148.57 L387.40,148.88 L387.75,148.78 L388.10,149.21 L388.45,149.13 L388.80,148.98 L389.15,149.13 L389.50,149.25 L389.85,149.13 L390.20,148.65 L390.55,149.29 L390.90,149.14 L391.25,149.64 L391.60,149.29 L391.95,149.49 L392.30,149.51 L392.65,149.98 L393.00,149.65 L393.35,149.63 L393.70,149.91 L394.05,149.83 L394.40,150.15 L394.75,150.26 L395.10,150.52 L395.45,151.17 L395.80,150.71 L396.15,151.05 L396.50,151.21 L396.85,151.69 L397.20,151.42 L397.55,151.85 L397.90,152.38 L398.25,152.91 L398.60,153.14 L398.95,153.42 L399.30,153.73 L399.65,154.54 L400.00,155.35 L400.35,155.56 L400.70,155.83 L401.05,155.84 L401.40,155.13 L401.75,154.82 L402.10,154.28 L402.45,153.94 L402.80,153.42 L403.15,152.62 L403.50,152.81 L403.85,152.50 L404.20,151.51 L404.55,151.31 L404.90,150.95 L405.25,150.84 L405.60,149.97 L405.95,150.61 L406.30,149.82 L406.65,150.11 L407.00,149.60 L407.35,149.30 L407.70,149.21 L408.05,149.36 L408.40,148.74 L408.75,148.77 L409.10,148.64 L409.45,148.20 L409.80,148.95 L410.15,148.65 L410.50,148.40 L410.85,148.65 L411.20,147.98 L411.55,148.16 L411.90,148.61 L412.25,148.35 L412.60,147.41 L412.95,147.08" fill="none" stroke="#2a2028" stroke-width="1.1"/>
<path d="M314.60,149.92 L314.95,150.53 L315.30,150.12 L315.65,150.21 L316.00,150.46 L316.35,150.07 L316.70,150.40 L317.05,150.58 L317.40,150.52 L317.75,150.53 L318.10,150.28 L318.45,150.62 L318.80,150.39 L319.15,150.90 L319.50,151.29 L319.85,150.40 L320.20,150.03 L320.55,150.56 L320.90,150.82 L321.25,151.04 L321.60,151.09 L321.95,150.61 L322.30,150.65 L322.65,151.27 L323.00,150.66 L323.35,151.32 L323.70,151.00 L324.05,151.33 L324.40,151.37 L324.75,151.44 L325.10,151.51 L325.45,151.07 L325.80,151.49 L326.15,151.48 L326.50,151.63 L326.85,151.96 L327.20,151.62 L327.55,151.58 L327.90,151.67 L328.25,151.88 L328.60,152.27 L328.95,151.94 L329.30,152.60 L329.65,152.46 L330.00,152.43 L330.35,152.24 L330.70,152.81 L331.05,153.07 L331.40,152.52 L331.75,153.50 L332.10,153.78 L332.45,153.58 L332.80,153.80 L333.15,154.53 L333.50,154.39 L333.85,154.01 L334.20,154.50 L334.55,154.73 L334.90,155.05 L335.25,154.80 L335.60,156.09 L335.95,156.20 L336.30,157.09 L336.65,157.95 L337.00,159.55 L337.35,161.04 L337.70,162.88 L338.05,164.03 L338.40,162.97 L338.75,160.45 L339.10,159.23 L339.45,157.68 L339.80,156.53 L340.15,156.41 L340.50,155.10 L340.85,155.00 L341.20,153.98 L341.55,153.70 L341.90,152.74 L342.25,152.43 L342.60,152.57 L342.95,151.94 L343.30,151.53 L343.65,151.05 L344.00,150.98 L344.35,150.18 L344.70,150.00 L345.05,150.05 L345.40,149.66 L345.75,149.52 L346.10,149.52 L346.45,149.34 L346.80,149.18 L347.15,149.57 L347.50,149.28 L347.85,149.24 L348.20,148.81 L348.55,148.60 L348.90,148.27 L349.25,148.52 L349.60,147.97 L349.95,148.34 L350.30,148.66 L350.65,148.86 L351.00,148.63 L351.35,148.07 L351.70,148.41 L352.05,148.01 L352.40,148.43 L352.75,148.13 L353.10,148.36 L353.45,148.80 L353.80,148.30 L354.15,148.66 L354.50,148.02 L354.85,147.84 L355.20,148.27 L355.55,148.34 L355.90,147.67 L356.25,147.81 L356.60,147.36 L356.95,147.67 L357.30,147.94 L357.65,147.64 L358.00,147.48 L358.35,147.22 L358.70,147.69 L359.05,147.79 L359.40,147.71 L359.75,147.60 L360.10,147.15 L360.45,147.99 L360.80,147.46 L361.15,147.42 L361.50,147.65 L361.85,146.83 L362.20,147.40 L362.55,147.36 L362.90,147.49 L363.25,147.75 L363.60,147.49 L363.95,146.83 L364.30,147.24 L364.65,147.38 L365.00,147.35 L365.35,146.94 L365.70,146.82 L366.05,147.43 L366.40,147.36 L366.75,147.25 L367.10,146.76 L367.45,147.74 L367.80,146.42 L368.15,147.12 L368.50,147.81 L368.85,147.17 L369.20,147.28 L369.55,146.88 L369.90,147.59 L370.25,146.85 L370.60,147.28 L370.95,147.25 L371.30,146.92 L371.65,147.47 L372.00,146.83 L372.35,147.04 L372.70,147.22 L373.05,147.12 L373.40,147.37 L373.75,147.51 L374.10,147.17 L374.45,147.11 L374.80,147.13 L375.15,147.18 L375.50,147.51 L375.85,147.23 L376.20,147.42 L376.55,147.29 L376.90,147.09 L377.25,147.58 L377.60,147.05 L377.95,147.36 L378.30,147.78 L378.65,147.07 L379.00,147.37 L379.35,146.95 L379.70,147.27 L380.05,147.00 L380.40,147.33 L380.75,147.29 L381.10,147.49 L381.45,147.92 L381.80,147.57 L382.15,147.69 L382.50,147.51 L382.85,147.47 L383.20,147.33 L383.55,147.08 L383.90,147.62 L384.25,148.08 L384.60,147.78 L384.95,147.52 L385.30,148.16 L385.65,147.61 L386.00,147.58 L386.35,147.45 L386.70,147.55 L387.05,147.78 L387.40,148.44 L387.75,147.86 L388.10,147.66 L388.45,147.82 L388.80,147.97 L389.15,147.60 L389.50,148.17 L389.85,148.38 L390.20,148.34 L390.55,148.48 L390.90,148.02 L391.25,147.98 L391.60,148.89 L391.95,148.92 L392.30,148.27 L392.65,148.86 L393.00,148.91 L393.35,149.16 L393.70,149.20 L394.05,149.15 L394.40,149.50 L394.75,149.67 L395.10,149.81 L395.45,149.52 L395.80,149.43 L396.15,150.29 L396.50,150.32 L396.85,151.14 L397.20,151.59 L397.55,151.86 L397.90,152.15 L398.25,152.81 L398.60,153.76 L398.95,154.00 L399.30,155.42 L399.65,156.64 L400.00,158.41 L400.35,161.08 L400.70,162.19 L401.05,162.15 L401.40,159.52 L401.75,157.44 L402.10,155.69 L402.45,154.91 L402.80,153.63 L403.15,153.14 L403.50,152.12 L403.85,152.13 L404.20,151.79 L404.55,150.87 L404.90,150.88 L405.25,150.27 L405.60,150.45 L405.95,149.61 L406.30,148.91 L406.65,149.55 L407.00,148.89 L407.35,148.46 L407.70,148.40 L408.05,147.97 L408.40,148.24 L408.75,147.87 L409.10,148.48 L409.45,148.14 L409.80,147.39 L410.15,147.34 L410.50,147.51 L410.85,147.05 L411.20,147.48 L411.55,147.43 L411.90,147.16 L412.25,147.17 L412.60,147.42 L412.95,147.65" fill="none" stroke="#4040c0" stroke-width="1.1"/>
<rect x="314.6" y="135.7" width="98.59999999999997" height="98.80000000000001" fill="none" stroke="#222" stroke-width="0.8"/>
<text x="355.2" y="167.8" font-size="5.5" text-anchor="start" fill="#333" font-weight="bold" font-family="Liberation Sans" stroke="#333" stroke-width="0.12" >V<tspan font-size="3.4" dy="1.7">GS</tspan><tspan dy="-1.7"> = 14V</tspan></text>
<text x="355.2" y="176.8" font-size="5.5" text-anchor="start" fill="#b49474" font-weight="bold" font-family="Liberation Sans" stroke="#b49474" stroke-width="0.12" >V<tspan font-size="3.4" dy="1.7">GS</tspan><tspan dy="-1.7"> = 0V</tspan></text>
<text x="355.2" y="185.5" font-size="5.5" text-anchor="start" fill="#4a4ac0" font-weight="bold" font-family="Liberation Sans" stroke="#4a4ac0" stroke-width="0.12" >V<tspan font-size="3.4" dy="1.7">GS</tspan><tspan dy="-1.7"> = -14V</tspan></text>
<rect x="426.7" y="144.3" width="116.7" height="7.8" fill="#d2cef2" />
<rect x="465" y="144.3" width="78.4" height="7.8" fill="#d8def6" />
<rect x="436.5" y="142.7" width="18.8" height="1.8" fill="#eef080" />
<rect x="446.5" y="144.3" width="8.8" height="3.1" fill="#c6dc2c" />
<rect x="446.5" y="147.4" width="8.8" height="4.7" fill="#3a3232" />
<rect x="507" y="142.5" width="18.6" height="1.9" fill="#e8e040" />
<line x1="468" y1="144.7" x2="503" y2="144.7" stroke="#555" stroke-width="0.5" stroke-dasharray="2,1.5"/>
<rect x="426.7" y="152.1" width="116.7" height="3.8" fill="#9eeaf4" />
<rect x="446.5" y="152.1" width="26" height="3.1" fill="#0e5a3a" />
<rect x="472.4" y="152.1" width="8.8" height="13" fill="#5a88b0" />
<rect x="426.7" y="155.9" width="116.7" height="9.4" fill="#3c88de" />
<rect x="426.7" y="152.1" width="5.3" height="13.2" fill="#5656c8" />
<rect x="475" y="152.4" width="28.4" height="1.8" fill="#3aa080" />
<rect x="482.4" y="147.4" width="11.8" height="4.7" fill="#7c7c7c" />
<rect x="482.4" y="147.4" width="11.8" height="11" fill="none" stroke="#444" stroke-width="0.5"/>
<rect x="426.7" y="165.3" width="116.7" height="2.5" fill="#aeeefa" />
<text x="446.6" y="140.8" font-size="4.25" text-anchor="middle" fill="#222" font-weight="bold" font-family="Liberation Sans" stroke="#222" stroke-width="0.12" >Ti/Pt/Au</text>
<text x="488.9" y="142.9" font-size="4.2" text-anchor="middle" fill="#222" font-weight="bold" font-family="Liberation Sans" stroke="#222" stroke-width="0.12" >Graphene</text>
<text x="516.8" y="140.8" font-size="4.2" text-anchor="middle" fill="#222" font-weight="bold" font-family="Liberation Sans" stroke="#222" stroke-width="0.12" >Pd</text>
<text x="538.5" y="142" font-size="4.2" text-anchor="middle" fill="#222" font-weight="bold" font-family="Liberation Sans" stroke="#222" stroke-width="0.12" >Air</text>
<text x="537.8" y="152.2" font-size="3.9" text-anchor="middle" fill="#1c2a60" font-weight="bold" font-family="Liberation Sans" stroke="#1c2a60" stroke-width="0.12" >SiO<tspan font-size="2.6" dy="1">2</tspan></text>
<text x="537.5" y="163.5" font-size="3.9" text-anchor="middle" fill="#1c2a60" font-weight="bold" font-family="Liberation Sans" stroke="#1c2a60" stroke-width="0.12" >BOX</text>
<text x="453" y="155" font-size="2.8" text-anchor="start" fill="#b8f0b8" font-weight="bold" font-family="Liberation Sans" >P++</text>
<text x="488.3" y="151.3" font-size="2.4" text-anchor="middle" fill="#333" font-weight="bold" font-family="Liberation Sans" >WG</text>
<text x="510.5" y="154.4" font-size="2.8" text-anchor="middle" fill="#1a5a5a" font-weight="bold" font-family="Liberation Sans" >hg</text>
<text x="518" y="152.2" font-size="2.6" text-anchor="middle" fill="#1a2a4a" font-weight="bold" font-family="Liberation Sans" >h</text>
<text x="486.5" y="161.4" font-size="2.6" text-anchor="middle" fill="#1a2a5a" font-weight="bold" font-family="Liberation Sans" >w</text>
<text x="476.5" y="161.4" font-size="2.6" text-anchor="middle" fill="#1a2a5a" font-weight="bold" font-family="Liberation Sans" >mp</text>
<rect x="424" y="168.6" width="122.4" height="65" fill="#49372b" />
<rect x="424" y="168.6" width="6.5" height="65" fill="#3f2e25" />
<rect x="505.2" y="184" width="5.8" height="49.6" fill="#5a3430" />
<rect x="430.5" y="184.7" width="103" height="1.9" fill="#65402f" />
<rect x="478.1" y="173.1" width="12" height="11.6" fill="#9c8c54" />
<rect x="478.1" y="186.6" width="12" height="15.8" fill="#8c784a" />
<rect x="474.8" y="186.6" width="3.3" height="16.2" fill="#683c2c" />
<rect x="490.1" y="186.6" width="3.3" height="16.2" fill="#683c2c" />
<rect x="464.1" y="186.7" width="10.7" height="16.1" fill="#b09a34" />
<rect x="493.4" y="186.7" width="10.6" height="16.1" fill="#b09a34" />
<rect x="479.7" y="184.9" width="9.2" height="6" fill="#3e2c24" stroke="#f2ead8" stroke-width="0.9"/>
<circle cx="483" cy="178.5" r="0.8" fill="#4a3a2a"/><circle cx="483" cy="198.5" r="0.9" fill="#4a3a2a"/>
<line x1="472" y1="203.4" x2="533.5" y2="203.4" stroke="#6e4a36" stroke-width="1.0" />
<line x1="472" y1="205.6" x2="528" y2="205.6" stroke="#5e4030" stroke-width="0.8" />
<line x1="528" y1="205.6" x2="528" y2="227.3" stroke="#5e4030" stroke-width="0.8" />
<line x1="472" y1="227.3" x2="528" y2="227.3" stroke="#5e4030" stroke-width="0.8" />
<rect x="471.8" y="210.3" width="3.5" height="15.4" fill="#b09a34" />
<rect x="476.6" y="210.3" width="15.8" height="15.4" fill="#5a3a2a" />
<rect x="478" y="211.6" width="13" height="12.9" fill="#9e8658" />
<rect x="493.2" y="210.3" width="10.8" height="15.4" fill="#b09a34" />
<rect x="474.8" y="209" width="3" height="18" fill="#683c2c" />
<line x1="504" y1="222.8" x2="533" y2="222.8" stroke="#6e4a36" stroke-width="0.9" />
<circle cx="433.4" cy="186.4" r="2" fill="none" stroke="#8a6a50" stroke-width="0.7"/>
<text x="424.7" y="180.8" font-size="5.9" text-anchor="start" fill="#fff" font-weight="normal" font-family="Liberation Sans" stroke="#fff" stroke-width="0.15" >Light in</text>
<text x="544.6" y="180.2" font-size="5.8" text-anchor="end" fill="#fff" font-weight="normal" font-family="Liberation Sans" stroke="#fff" stroke-width="0.15" >Through</text>
<text x="544.6" y="217.9" font-size="5.8" text-anchor="end" fill="#fff" font-weight="normal" font-family="Liberation Sans" stroke="#fff" stroke-width="0.15" >Drop</text>
<path d="M424.6,185.5 h3.2 v-1.1 l2.6,2 l-2.6,2 v-1.1 h-3.2 z" fill="#fff"/>
<path d="M538.0,185.4 h3.2 v-1.1 l2.6,2 l-2.6,2 v-1.1 h-3.2 z" fill="#fff"/>
<path d="M538.0,222.1 h3.2 v-1.1 l2.6,2 l-2.6,2 v-1.1 h-3.2 z" fill="#fff"/>
<rect x="533.3000000000001" y="184.9" width="2.8" height="2.8" fill="none" stroke="#a08458" stroke-width="0.55"/>
<rect x="534.1" y="202.2" width="2.8" height="2.8" fill="none" stroke="#a08458" stroke-width="0.55"/>
<rect x="533.8000000000001" y="221.6" width="2.8" height="2.8" fill="none" stroke="#a08458" stroke-width="0.55"/>
<rect x="423.7" y="204.5" width="48.4" height="30.7" fill="#a8a070" stroke="#e4dcb4" stroke-width="0.9"/>
<rect x="424.2" y="209.5" width="47.4" height="8.4" fill="#6c5a62" />
<rect x="424.2" y="222.7" width="47.4" height="7.3" fill="#6c5a62" />
<rect x="424.2" y="211.5" width="47.4" height="0.5" fill="#7c6a6a" />
<rect x="424.2" y="213.5" width="47.4" height="0.5" fill="#7c6a6a" />
<rect x="424.2" y="215.5" width="47.4" height="0.5" fill="#7c6a6a" />
<rect x="424.2" y="224.5" width="47.4" height="0.5" fill="#7c6a6a" />
<rect x="424.2" y="226.5" width="47.4" height="0.5" fill="#7c6a6a" />
<rect x="424.2" y="228.5" width="47.4" height="0.5" fill="#7c6a6a" />
<rect x="436.5" y="210.6" width="21.2" height="19.8" fill="#a8a064" />
<rect x="424.2" y="217.9" width="8.2" height="4.8" fill="#d4c43c" />
<rect x="460" y="217.9" width="11.6" height="4.8" fill="#d4c43c" />
<rect x="432.4" y="217.9" width="5.9" height="4.8" fill="#cc6c34" />
<rect x="455.9" y="217.9" width="4.1" height="4.8" fill="#cc6c34" />
<ellipse cx="447.1" cy="220.6" rx="8.8" ry="6.2" fill="#b46460"/>
<ellipse cx="447.1" cy="220.6" rx="8.8" ry="6.2" fill="none" stroke="#c8b070" stroke-width="0.6"/>
</svg>
</body></html>
